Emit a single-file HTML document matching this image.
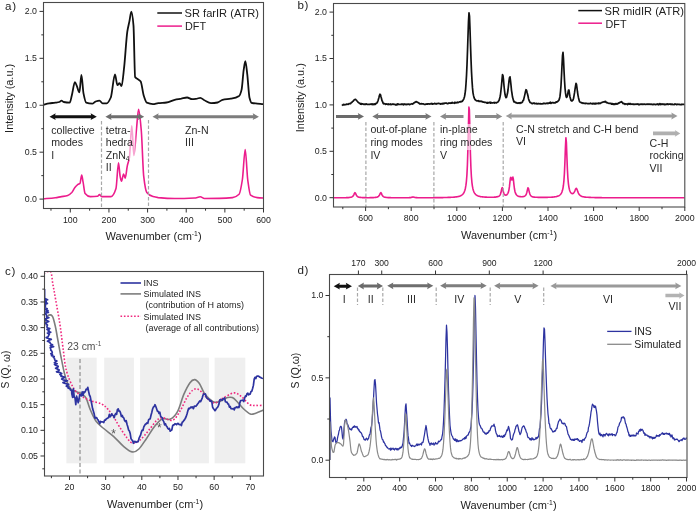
<!DOCTYPE html>
<html><head><meta charset="utf-8"><style>html,body{margin:0;padding:0;background:#fff;width:697px;height:511px;overflow:hidden}</style></head>
<body>
<svg width="697" height="511" viewBox="0 0 697 511" style="display:block;will-change:transform" font-family='"Liberation Sans", sans-serif'>
<rect width="697" height="511" fill="#fff"/>
<path d="M43.5,104.7 C45.4,104.2 47.3,103.6 49.2,103.3 C51.2,103.0 53.3,103.0 55.3,102.7 C56.7,102.5 58.0,102.4 59.4,102.0 C60.1,101.8 60.8,100.6 61.5,100.6 C62.2,100.6 62.9,101.8 63.6,102.0 C65.6,102.4 67.7,102.7 69.7,102.7 C70.4,102.7 71.1,98.2 71.8,95.5 C72.8,91.6 73.9,82.1 74.9,82.1 C75.6,82.1 76.2,84.7 76.9,86.2 C77.7,88.1 78.6,92.4 79.4,92.4 C80.1,92.4 80.7,74.9 81.4,74.9 C82.1,74.9 82.8,89.9 83.5,93.4 C84.4,97.9 85.3,102.4 86.2,102.7 C88.2,103.4 90.3,103.7 92.3,103.7 C93.3,103.7 94.4,102.0 95.4,101.6 C96.8,101.1 98.1,100.6 99.5,100.6 C100.5,100.6 101.6,103.3 102.6,103.3 C104.0,103.3 105.3,103.3 106.7,103.3 C108.1,103.3 109.4,100.6 110.8,97.5 C112.2,94.4 113.6,74.5 115.0,74.5 C115.8,74.5 116.6,85.2 117.4,85.2 C118.1,85.2 118.8,83.1 119.5,83.1 C120.2,83.1 120.8,86.2 121.5,86.2 C122.4,86.2 123.3,74.6 124.2,66.7 C125.2,57.6 126.3,38.6 127.3,31.7 C128.0,27.0 128.7,24.8 129.4,21.4 C130.1,18.1 130.7,11.6 131.4,11.6 C132.1,11.6 132.8,17.6 133.5,25.6 C134.0,31.7 134.6,76.1 135.1,77.0 C135.9,78.4 136.8,78.3 137.6,79.0 C138.6,79.8 139.7,80.1 140.7,81.5 C141.7,82.9 142.7,92.4 143.7,95.5 C144.7,98.7 145.8,102.2 146.8,102.7 C148.9,103.6 150.9,104.1 153.0,104.1 C154.7,104.1 156.5,103.3 158.2,103.1 C161.0,102.8 163.7,102.8 166.5,102.5 C169.2,102.2 172.0,100.4 174.7,99.8 C176.9,99.3 179.1,99.1 181.3,98.7 C183.2,98.3 185.2,97.5 187.1,97.5 C188.8,97.5 190.4,99.2 192.1,99.2 C193.7,99.2 195.4,98.9 197.0,98.7 C198.1,98.5 199.2,97.8 200.3,97.8 C201.7,97.8 203.0,99.6 204.4,100.3 C206.6,101.4 208.8,103.1 211.0,103.1 C213.2,103.1 215.4,102.9 217.6,102.5 C219.3,102.2 220.9,100.2 222.6,99.8 C225.3,99.2 228.1,99.2 230.8,98.7 C233.6,98.2 236.3,97.8 239.1,95.9 C239.9,95.3 240.8,93.0 241.6,89.6 C242.3,86.8 243.0,74.4 243.7,69.8 C244.3,66.1 244.8,61.2 245.4,61.2 C246.0,61.2 246.7,69.4 247.3,74.7 C248.0,80.9 248.8,94.9 249.5,97.8 C250.2,100.5 250.8,102.6 251.5,102.8 C253.4,103.4 255.3,103.4 257.2,103.6 C259.2,103.8 261.3,103.9 263.3,104.1" fill="none" stroke="#111" stroke-width="1.8" stroke-linejoin="round"/>
<path d="M43.5,198.7 C47.4,198.4 51.4,198.2 55.3,197.7 C57.4,197.5 59.4,196.9 61.5,196.6 C63.6,196.3 65.6,196.2 67.7,195.6 C69.1,195.2 70.4,193.9 71.8,192.5 C72.8,191.4 73.9,188.7 74.9,187.4 C75.9,186.1 77.0,185.0 78.0,184.3 C78.7,183.9 79.3,183.9 80.0,183.3 C80.6,182.8 81.1,175.0 81.7,175.0 C82.2,175.0 82.6,179.7 83.1,182.2 C83.8,185.8 84.4,192.7 85.1,193.5 C86.8,195.6 88.6,196.6 90.3,196.6 C92.7,196.6 95.1,196.5 97.5,196.2 C98.2,196.1 98.8,194.6 99.5,194.6 C100.2,194.6 100.9,196.6 101.6,196.6 C104.7,196.6 107.7,196.6 110.8,196.6 C112.5,196.6 114.3,193.6 116.0,188.4 C116.8,185.9 117.7,162.7 118.5,162.7 C119.0,162.7 119.6,173.4 120.1,176.1 C120.6,178.4 121.0,181.2 121.5,181.2 C122.2,181.2 122.9,174.0 123.6,174.0 C124.1,174.0 124.7,178.1 125.2,178.1 C125.9,178.1 126.6,169.1 127.3,165.8 C128.0,162.5 128.7,161.8 129.4,157.6 C130.2,152.8 131.0,125.7 131.8,125.7 C132.5,125.7 133.2,155.5 133.9,155.5 C134.8,155.5 135.6,137.2 136.5,128.8 C137.2,122.0 137.9,109.3 138.6,109.3 C139.5,109.3 140.4,120.6 141.3,130.8 C142.1,139.8 142.9,169.3 143.7,176.1 C144.7,184.8 145.8,191.2 146.8,192.5 C148.9,195.2 150.9,196.0 153.0,196.6 C154.7,197.1 156.5,197.4 158.2,197.6 C163.7,198.1 169.2,198.5 174.7,198.5 C181.3,198.5 187.9,198.3 194.5,198.0 C196.4,197.9 198.4,196.8 200.3,196.8 C201.7,196.8 203.0,198.5 204.4,198.5 C213.8,198.5 223.1,198.3 232.5,197.6 C234.7,197.4 236.9,196.5 239.1,194.3 C240.2,193.2 241.3,186.5 242.4,179.5 C243.3,173.5 244.3,149.5 245.2,149.5 C246.0,149.5 246.9,173.2 247.7,179.5 C248.7,186.8 249.6,194.5 250.6,195.2 C252.8,196.9 255.0,197.4 257.2,197.6 C259.2,197.8 261.3,197.9 263.3,198.0" fill="none" stroke="#ec1c8c" stroke-width="1.6" stroke-linejoin="round"/>
<rect x="105" y="122" width="30.5" height="38" fill="#fff" fill-opacity="0.6"/>
<line x1="101.5" y1="121" x2="101.5" y2="207" stroke="#a8a8a8" stroke-width="1.2" stroke-dasharray="3.5,2"/>
<line x1="148.5" y1="120" x2="148.5" y2="207" stroke="#a8a8a8" stroke-width="1.2" stroke-dasharray="3.5,2"/>
<path d="M49.50,116.70 L55.70,113.30 L55.10,115.20 L91.20,115.20 L90.60,113.30 L96.80,116.70 L90.60,120.10 L91.20,118.20 L55.10,118.20 L55.70,120.10 Z" fill="#111"/>
<path d="M105.40,116.70 L111.60,113.30 L111.00,115.20 L138.60,115.20 L138.00,113.30 L144.20,116.70 L138.00,120.10 L138.60,118.20 L111.00,118.20 L111.60,120.10 Z" fill="#6e6e6e"/>
<path d="M152.50,116.70 L158.70,113.30 L158.10,115.20 L253.30,115.20 L252.70,113.30 L258.90,116.70 L252.70,120.10 L253.30,118.20 L158.10,118.20 L158.70,120.10 Z" fill="#7d7d7d"/>
<text x="51.2" y="133.5" font-size="10.6" fill="#2a2a2a" text-anchor="start" >collective</text>
<text x="51.2" y="146.0" font-size="10.6" fill="#2a2a2a" text-anchor="start" >modes</text>
<text x="51.2" y="158.5" font-size="10.6" fill="#2a2a2a" text-anchor="start" >I</text>
<text x="105.8" y="133.5" font-size="10.6" fill="#2a2a2a" text-anchor="start" >tetra-</text>
<text x="105.8" y="146.1" font-size="10.6" fill="#2a2a2a" text-anchor="start" >hedra</text>
<text x="105.8" y="158.7" font-size="10.6" fill="#2a2a2a" text-anchor="start" >ZnN<tspan font-size="6.5" dy="2.5">4</tspan></text>
<text x="105.8" y="171.3" font-size="10.6" fill="#2a2a2a" text-anchor="start" >II</text>
<text x="185" y="133.6" font-size="10.6" fill="#2a2a2a" text-anchor="start" >Zn-N</text>
<text x="185" y="145.9" font-size="10.6" fill="#2a2a2a" text-anchor="start" >III</text>
<rect x="43.5" y="2.5" width="220.0" height="206.0" fill="none" stroke="#4a4a4a" stroke-width="1.1"/>
<line x1="39.5" y1="199.1" x2="43.5" y2="199.1" stroke="#333" stroke-width="1"/>
<line x1="39.5" y1="152.175" x2="43.5" y2="152.175" stroke="#333" stroke-width="1"/>
<line x1="39.5" y1="105.25" x2="43.5" y2="105.25" stroke="#333" stroke-width="1"/>
<line x1="39.5" y1="58.32500000000002" x2="43.5" y2="58.32500000000002" stroke="#333" stroke-width="1"/>
<line x1="39.5" y1="11.400000000000006" x2="43.5" y2="11.400000000000006" stroke="#333" stroke-width="1"/>
<line x1="41.3" y1="175.6375" x2="43.5" y2="175.6375" stroke="#333" stroke-width="1"/>
<line x1="41.3" y1="128.7125" x2="43.5" y2="128.7125" stroke="#333" stroke-width="1"/>
<line x1="41.3" y1="81.7875" x2="43.5" y2="81.7875" stroke="#333" stroke-width="1"/>
<line x1="41.3" y1="34.86250000000001" x2="43.5" y2="34.86250000000001" stroke="#333" stroke-width="1"/>
<line x1="70.3" y1="208.5" x2="70.3" y2="212.5" stroke="#333" stroke-width="1"/>
<line x1="108.94" y1="208.5" x2="108.94" y2="212.5" stroke="#333" stroke-width="1"/>
<line x1="147.57999999999998" y1="208.5" x2="147.57999999999998" y2="212.5" stroke="#333" stroke-width="1"/>
<line x1="186.22" y1="208.5" x2="186.22" y2="212.5" stroke="#333" stroke-width="1"/>
<line x1="224.86" y1="208.5" x2="224.86" y2="212.5" stroke="#333" stroke-width="1"/>
<line x1="263.5" y1="208.5" x2="263.5" y2="212.5" stroke="#333" stroke-width="1"/>
<line x1="50.98" y1="208.5" x2="50.98" y2="210.7" stroke="#333" stroke-width="1"/>
<line x1="89.62" y1="208.5" x2="89.62" y2="210.7" stroke="#333" stroke-width="1"/>
<line x1="128.26" y1="208.5" x2="128.26" y2="210.7" stroke="#333" stroke-width="1"/>
<line x1="166.9" y1="208.5" x2="166.9" y2="210.7" stroke="#333" stroke-width="1"/>
<line x1="205.54000000000002" y1="208.5" x2="205.54000000000002" y2="210.7" stroke="#333" stroke-width="1"/>
<line x1="244.18" y1="208.5" x2="244.18" y2="210.7" stroke="#333" stroke-width="1"/>
<text x="37" y="202.0" font-size="8.8" fill="#222" text-anchor="end" >0.0</text>
<text x="37" y="155.07500000000002" font-size="8.8" fill="#222" text-anchor="end" >0.5</text>
<text x="37" y="108.15" font-size="8.8" fill="#222" text-anchor="end" >1.0</text>
<text x="37" y="61.225000000000016" font-size="8.8" fill="#222" text-anchor="end" >1.5</text>
<text x="37" y="14.300000000000006" font-size="8.8" fill="#222" text-anchor="end" >2.0</text>
<text x="70.3" y="222.5" font-size="8.8" fill="#222" text-anchor="middle" >100</text>
<text x="108.94" y="222.5" font-size="8.8" fill="#222" text-anchor="middle" >200</text>
<text x="147.57999999999998" y="222.5" font-size="8.8" fill="#222" text-anchor="middle" >300</text>
<text x="186.22" y="222.5" font-size="8.8" fill="#222" text-anchor="middle" >400</text>
<text x="224.86" y="222.5" font-size="8.8" fill="#222" text-anchor="middle" >500</text>
<text x="263.5" y="222.5" font-size="8.8" fill="#222" text-anchor="middle" >600</text>
<text x="153.5" y="239.5" font-size="11" fill="#222" text-anchor="middle" >Wavenumber (cm<tspan font-size="6.8" dy="-4">-1</tspan><tspan dy="4">)</tspan></text>
<text transform="translate(13.4,98.4) rotate(-90)" font-size="10.9" fill="#222" text-anchor="middle">Intensity (a.u.)</text>
<text x="5.0" y="10.3" font-size="11.6" fill="#222" text-anchor="start" letter-spacing="0.7">a)</text>
<line x1="157.3" y1="13" x2="182" y2="13" stroke="#111" stroke-width="1.5"/>
<text x="184.6" y="17.3" font-size="11.1" fill="#222" text-anchor="start" >SR farIR (ATR)</text>
<line x1="157.3" y1="26.1" x2="182" y2="26.1" stroke="#ec1c8c" stroke-width="1.5"/>
<text x="185" y="30.3" font-size="10.8" fill="#222" text-anchor="start" >DFT</text>
<path d="M342.0,105.6 L342.5,105.0 L343.0,104.9 L343.5,104.3 L344.0,104.9 L344.5,104.7 L345.0,104.6 L345.5,104.7 L346.0,104.7 L346.5,104.2 L347.0,104.2 L347.5,104.2 L348.0,104.4 L348.5,104.2 L349.0,103.6 L349.5,103.5 L350.0,103.7 L350.5,103.7 L351.0,103.0 L351.5,102.4 L352.0,102.4 L352.5,101.6 L353.0,101.3 L353.5,100.9 L354.0,100.1 L354.5,99.5 L355.0,99.5 L355.5,99.3 L356.0,99.9 L356.5,100.3 L357.0,101.0 L357.5,101.5 L358.0,102.1 L358.5,102.5 L359.0,103.0 L359.5,103.3 L360.0,103.6 L360.5,104.1 L361.0,103.5 L361.5,104.3 L362.0,104.0 L362.5,103.8 L363.0,104.1 L363.5,104.2 L364.0,104.5 L364.5,104.0 L365.0,104.3 L365.5,104.3 L366.0,103.8 L366.5,104.0 L367.0,104.4 L367.5,104.4 L368.0,104.5 L368.5,104.4 L369.0,104.4 L369.5,104.3 L370.0,104.5 L370.5,104.0 L371.0,104.2 L371.5,104.3 L372.0,103.8 L372.5,104.5 L373.0,104.0 L373.5,104.1 L374.0,104.7 L374.5,103.9 L375.0,103.9 L375.5,104.3 L376.0,103.4 L376.5,103.2 L377.0,102.9 L377.5,102.0 L378.0,100.7 L378.5,99.0 L379.0,97.3 L379.5,95.3 L380.0,94.2 L380.5,94.8 L381.0,96.8 L381.5,98.5 L382.0,100.8 L382.5,101.4 L383.0,103.0 L383.5,103.8 L384.0,103.4 L384.5,103.7 L385.0,103.9 L385.5,104.3 L386.0,103.9 L386.5,104.1 L387.0,104.1 L387.5,104.2 L388.0,104.6 L388.5,104.0 L389.0,104.3 L389.5,104.3 L390.0,104.5 L390.5,104.0 L391.0,104.6 L391.5,104.4 L392.0,104.5 L392.5,104.3 L393.0,103.9 L393.5,104.2 L394.0,104.5 L394.5,104.3 L395.0,104.3 L395.5,104.8 L396.0,104.9 L396.5,104.3 L397.0,104.8 L397.5,103.8 L398.0,103.8 L398.5,104.5 L399.0,104.3 L399.5,104.5 L400.0,104.5 L400.5,104.3 L401.0,104.5 L401.5,104.4 L402.0,103.9 L402.5,104.4 L403.0,104.4 L403.5,104.8 L404.0,104.0 L404.5,104.3 L405.0,104.2 L405.5,104.3 L406.0,104.7 L406.5,104.4 L407.0,104.2 L407.5,104.3 L408.0,104.5 L408.5,104.0 L409.0,104.2 L409.5,104.6 L410.0,104.4 L410.5,104.2 L411.0,104.0 L411.5,104.0 L412.0,103.6 L412.5,104.1 L413.0,103.8 L413.5,103.5 L414.0,102.8 L414.5,102.6 L415.0,102.4 L415.5,102.0 L416.0,101.5 L416.5,101.8 L417.0,102.2 L417.5,102.2 L418.0,102.6 L418.5,102.9 L419.0,103.1 L419.5,103.8 L420.0,103.9 L420.5,104.0 L421.0,103.6 L421.5,103.7 L422.0,104.0 L422.5,103.9 L423.0,104.0 L423.5,103.8 L424.0,104.2 L424.5,104.5 L425.0,104.4 L425.5,104.4 L426.0,104.0 L426.5,104.2 L427.0,103.9 L427.5,104.2 L428.0,103.9 L428.5,103.8 L429.0,103.8 L429.5,104.1 L430.0,104.0 L430.5,103.9 L431.0,103.6 L431.5,103.9 L432.0,103.5 L432.5,104.2 L433.0,103.8 L433.5,103.9 L434.0,103.8 L434.5,103.4 L435.0,103.4 L435.5,103.8 L436.0,104.1 L436.5,103.5 L437.0,103.6 L437.5,103.7 L438.0,103.3 L438.5,103.3 L439.0,103.6 L439.5,103.7 L440.0,103.6 L440.5,104.0 L441.0,103.6 L441.5,103.7 L442.0,104.0 L442.5,104.0 L443.0,103.2 L443.5,103.4 L444.0,103.8 L444.5,103.2 L445.0,103.2 L445.5,103.1 L446.0,103.1 L446.5,103.1 L447.0,103.4 L447.5,103.7 L448.0,103.7 L448.5,103.3 L449.0,102.8 L449.5,103.2 L450.0,103.1 L450.5,103.3 L451.0,103.1 L451.5,102.7 L452.0,103.2 L452.5,102.5 L453.0,102.8 L453.5,103.0 L454.0,103.0 L454.5,103.3 L455.0,102.2 L455.5,102.9 L456.0,102.9 L456.5,102.6 L457.0,102.7 L457.5,102.2 L458.0,102.6 L458.5,102.5 L459.0,102.0 L459.5,101.9 L460.0,101.9 L460.5,101.6 L461.0,101.9 L461.5,101.4 L462.0,101.5 L462.5,101.1 L463.0,100.3 L463.5,99.6 L464.0,98.3 L464.5,96.7 L465.0,94.0 L465.5,90.2 L466.0,83.8 L466.5,75.6 L467.0,64.7 L467.5,51.0 L468.0,35.7 L468.5,21.3 L469.0,12.9 L469.5,16.1 L470.0,29.4 L470.5,44.9 L471.0,59.2 L471.5,71.6 L472.0,80.8 L472.5,87.9 L473.0,92.8 L473.5,95.4 L474.0,97.4 L474.5,98.7 L475.0,99.7 L475.5,99.9 L476.0,100.4 L476.5,100.8 L477.0,101.0 L477.5,100.9 L478.0,100.8 L478.5,100.7 L479.0,101.5 L479.5,101.4 L480.0,101.1 L480.5,101.3 L481.0,101.4 L481.5,101.2 L482.0,101.8 L482.5,101.7 L483.0,101.9 L483.5,102.2 L484.0,102.1 L484.5,102.4 L485.0,102.4 L485.5,102.4 L486.0,102.5 L486.5,103.0 L487.0,102.5 L487.5,103.1 L488.0,102.5 L488.5,102.9 L489.0,102.8 L489.5,102.6 L490.0,102.1 L490.5,103.2 L491.0,102.5 L491.5,102.6 L492.0,102.9 L492.5,102.8 L493.0,102.9 L493.5,102.7 L494.0,102.4 L494.5,103.0 L495.0,102.5 L495.5,102.7 L496.0,102.8 L496.5,102.8 L497.0,102.4 L497.5,102.2 L498.0,101.9 L498.5,101.1 L499.0,100.5 L499.5,99.1 L500.0,97.0 L500.5,94.3 L501.0,90.0 L501.5,85.3 L502.0,79.7 L502.5,74.7 L503.0,75.7 L503.5,79.9 L504.0,85.8 L504.5,90.5 L505.0,94.3 L505.5,96.5 L506.0,97.7 L506.5,97.3 L507.0,95.4 L507.5,93.3 L508.0,90.0 L508.5,85.7 L509.0,80.8 L509.5,77.7 L510.0,76.8 L510.5,80.7 L511.0,85.2 L511.5,90.3 L512.0,93.5 L512.5,97.0 L513.0,98.7 L513.5,100.6 L514.0,101.9 L514.5,101.6 L515.0,102.2 L515.5,102.7 L516.0,102.7 L516.5,102.5 L517.0,103.2 L517.5,103.0 L518.0,103.3 L518.5,103.1 L519.0,102.8 L519.5,102.9 L520.0,103.4 L520.5,102.6 L521.0,102.7 L521.5,102.8 L522.0,102.5 L522.5,101.9 L523.0,100.5 L523.5,100.2 L524.0,98.1 L524.5,96.1 L525.0,93.9 L525.5,91.5 L526.0,89.7 L526.5,90.1 L527.0,92.3 L527.5,94.0 L528.0,96.0 L528.5,98.7 L529.0,100.2 L529.5,101.4 L530.0,102.5 L530.5,102.4 L531.0,102.9 L531.5,103.2 L532.0,103.6 L532.5,103.6 L533.0,103.2 L533.5,103.1 L534.0,103.4 L534.5,103.1 L535.0,103.8 L535.5,103.5 L536.0,103.5 L536.5,103.4 L537.0,104.0 L537.5,103.7 L538.0,103.5 L538.5,103.8 L539.0,103.6 L539.5,103.8 L540.0,104.0 L540.5,103.6 L541.0,103.8 L541.5,103.8 L542.0,103.9 L542.5,103.8 L543.0,103.6 L543.5,103.4 L544.0,103.6 L544.5,103.3 L545.0,103.7 L545.5,103.5 L546.0,103.6 L546.5,103.3 L547.0,103.2 L547.5,103.1 L548.0,103.6 L548.5,103.2 L549.0,103.1 L549.5,102.7 L550.0,103.1 L550.5,102.2 L551.0,103.4 L551.5,102.9 L552.0,102.9 L552.5,102.5 L553.0,102.6 L553.5,102.9 L554.0,102.7 L554.5,102.8 L555.0,102.9 L555.5,102.7 L556.0,101.9 L556.5,102.1 L557.0,101.9 L557.5,101.7 L558.0,101.1 L558.5,100.6 L559.0,100.1 L559.5,98.6 L560.0,96.2 L560.5,91.6 L561.0,85.5 L561.5,76.0 L562.0,65.5 L562.5,55.7 L563.0,52.3 L563.5,59.0 L564.0,70.3 L564.5,80.2 L565.0,88.0 L565.5,92.9 L566.0,96.1 L566.5,97.4 L567.0,96.9 L567.5,95.4 L568.0,92.4 L568.5,90.1 L569.0,90.0 L569.5,93.8 L570.0,97.0 L570.5,98.8 L571.0,100.5 L571.5,100.6 L572.0,101.0 L572.5,100.4 L573.0,100.0 L573.5,98.5 L574.0,95.8 L574.5,92.9 L575.0,89.3 L575.5,86.2 L576.0,83.3 L576.5,84.4 L577.0,88.1 L577.5,92.0 L578.0,95.3 L578.5,97.7 L579.0,99.7 L579.5,101.6 L580.0,102.0 L580.5,102.3 L581.0,102.4 L581.5,102.9 L582.0,103.0 L582.5,102.9 L583.0,103.4 L583.5,103.0 L584.0,103.2 L584.5,103.5 L585.0,103.4 L585.5,103.6 L586.0,103.3 L586.5,103.3 L587.0,103.5 L587.5,103.5 L588.0,103.8 L588.5,103.6 L589.0,103.5 L589.5,103.6 L590.0,103.7 L590.5,103.2 L591.0,103.5 L591.5,103.5 L592.0,103.9 L592.5,103.4 L593.0,103.8 L593.5,103.3 L594.0,103.6 L594.5,103.9 L595.0,103.5 L595.5,103.9 L596.0,103.1 L596.5,103.6 L597.0,103.6 L597.5,103.5 L598.0,103.2 L598.5,103.7 L599.0,102.9 L599.5,103.6 L600.0,103.3 L600.5,103.4 L601.0,102.9 L601.5,102.5 L602.0,102.5 L602.5,102.2 L603.0,102.2 L603.5,101.8 L604.0,101.8 L604.5,101.7 L605.0,102.0 L605.5,101.4 L606.0,102.0 L606.5,102.6 L607.0,102.8 L607.5,102.7 L608.0,103.0 L608.5,103.2 L609.0,103.4 L609.5,103.4 L610.0,103.4 L610.5,103.4 L611.0,103.6 L611.5,104.1 L612.0,103.5 L612.5,104.0 L613.0,104.3 L613.5,103.9 L614.0,104.4 L614.5,103.8 L615.0,104.3 L615.5,103.8 L616.0,103.5 L616.5,103.9 L617.0,104.2 L617.5,103.5 L618.0,103.7 L618.5,103.1 L619.0,102.9 L619.5,102.9 L620.0,102.3 L620.5,102.1 L621.0,102.1 L621.5,101.7 L622.0,102.2 L622.5,102.8 L623.0,103.7 L623.5,103.3 L624.0,103.5 L624.5,103.9 L625.0,104.4 L625.5,103.8 L626.0,103.9 L626.5,104.0 L627.0,104.2 L627.5,104.6 L628.0,103.7 L628.5,103.6 L629.0,104.1 L629.5,104.2 L630.0,103.5 L630.5,103.9 L631.0,104.3 L631.5,104.0 L632.0,104.2 L632.5,104.2 L633.0,104.3 L633.5,104.2 L634.0,104.2 L634.5,104.5 L635.0,104.0 L635.5,104.2 L636.0,104.4 L636.5,104.0 L637.0,104.1 L637.5,104.0 L638.0,103.9 L638.5,104.7 L639.0,104.3 L639.5,104.7 L640.0,104.4 L640.5,104.2 L641.0,104.1 L641.5,104.3 L642.0,104.2 L642.5,104.4 L643.0,104.0 L643.5,104.3 L644.0,104.3 L644.5,104.2 L645.0,104.2 L645.5,104.4 L646.0,104.4 L646.5,104.2 L647.0,104.2 L647.5,104.1 L648.0,104.4 L648.5,104.2 L649.0,103.9 L649.5,104.2 L650.0,104.4 L650.5,104.3 L651.0,104.0 L651.5,104.4 L652.0,104.4 L652.5,104.4 L653.0,104.7 L653.5,104.2 L654.0,104.4 L654.5,104.2 L655.0,104.5 L655.5,104.6 L656.0,104.4 L656.5,104.5 L657.0,104.1 L657.5,104.4 L658.0,104.0 L658.5,104.8 L659.0,104.6 L659.5,103.9 L660.0,103.6 L660.5,104.6 L661.0,104.1 L661.5,104.4 L662.0,104.0 L662.5,104.3 L663.0,104.1 L663.5,104.5 L664.0,104.2 L664.5,104.7 L665.0,104.1 L665.5,104.6 L666.0,104.3 L666.5,104.4 L667.0,103.9 L667.5,103.9 L668.0,104.6 L668.5,104.0 L669.0,104.2 L669.5,104.2 L670.0,104.1 L670.5,104.4 L671.0,104.0 L671.5,104.0 L672.0,104.6 L672.5,104.1 L673.0,104.5 L673.5,104.5 L674.0,104.7 L674.5,104.5 L675.0,103.9 L675.5,104.2 L676.0,104.3 L676.5,104.7 L677.0,104.4 L677.5,104.2 L678.0,104.5 L678.5,104.3 L679.0,104.5 L679.5,104.4 L680.0,104.6 L680.5,104.5 L681.0,104.6 L681.5,104.4 L682.0,104.6 L682.5,104.3 L683.0,104.5 L683.5,104.4 L684.0,104.4 L684.5,104.3" fill="none" stroke="#111" stroke-width="1.7" stroke-linejoin="round"/>
<path d="M333.4,197.8 L333.9,197.8 L334.4,197.8 L334.9,197.8 L335.4,197.8 L335.9,197.8 L336.4,197.8 L336.9,197.8 L337.4,197.7 L337.9,197.7 L338.4,197.7 L338.9,197.7 L339.4,197.7 L339.9,197.7 L340.4,197.7 L340.9,197.7 L341.4,197.7 L341.9,197.7 L342.4,197.7 L342.9,197.7 L343.4,197.7 L343.9,197.7 L344.4,197.7 L344.9,197.7 L345.4,197.7 L345.9,197.7 L346.4,197.6 L346.9,197.6 L347.4,197.6 L347.9,197.6 L348.4,197.6 L348.9,197.5 L349.4,197.5 L349.9,197.4 L350.4,197.3 L350.9,197.2 L351.4,197.1 L351.9,196.9 L352.4,196.6 L352.9,196.2 L353.4,195.5 L353.9,194.6 L354.4,193.4 L354.9,192.6 L355.4,193.0 L355.9,194.1 L356.4,195.2 L356.9,195.9 L357.4,196.5 L357.9,196.8 L358.4,197.0 L358.9,197.2 L359.4,197.3 L359.9,197.4 L360.4,197.4 L360.9,197.5 L361.4,197.5 L361.9,197.5 L362.4,197.6 L362.9,197.6 L363.4,197.6 L363.9,197.6 L364.4,197.6 L364.9,197.6 L365.4,197.6 L365.9,197.6 L366.4,197.7 L366.9,197.7 L367.4,197.7 L367.9,197.7 L368.4,197.7 L368.9,197.7 L369.4,197.7 L369.9,197.6 L370.4,197.6 L370.9,197.6 L371.4,197.6 L371.9,197.6 L372.4,197.6 L372.9,197.6 L373.4,197.6 L373.9,197.5 L374.4,197.5 L374.9,197.5 L375.4,197.4 L375.9,197.4 L376.4,197.3 L376.9,197.2 L377.4,197.0 L377.9,196.8 L378.4,196.4 L378.9,195.9 L379.4,195.2 L379.9,194.1 L380.4,193.0 L380.9,192.6 L381.4,193.4 L381.9,194.6 L382.4,195.5 L382.9,196.2 L383.4,196.6 L383.9,196.9 L384.4,197.1 L384.9,197.2 L385.4,197.3 L385.9,197.4 L386.4,197.5 L386.9,197.5 L387.4,197.5 L387.9,197.6 L388.4,197.6 L388.9,197.6 L389.4,197.6 L389.9,197.6 L390.4,197.6 L390.9,197.7 L391.4,197.7 L391.9,197.7 L392.4,197.7 L392.9,197.7 L393.4,197.7 L393.9,197.7 L394.4,197.7 L394.9,197.7 L395.4,197.7 L395.9,197.7 L396.4,197.7 L396.9,197.7 L397.4,197.7 L397.9,197.7 L398.4,197.7 L398.9,197.7 L399.4,197.7 L399.9,197.7 L400.4,197.7 L400.9,197.7 L401.4,197.7 L401.9,197.7 L402.4,197.7 L402.9,197.7 L403.4,197.7 L403.9,197.7 L404.4,197.7 L404.9,197.7 L405.4,197.7 L405.9,197.7 L406.4,197.7 L406.9,197.7 L407.4,197.7 L407.9,197.7 L408.4,197.7 L408.9,197.7 L409.4,197.6 L409.9,197.6 L410.4,197.6 L410.9,197.5 L411.4,197.4 L411.9,197.3 L412.4,197.1 L412.9,197.0 L413.4,197.0 L413.9,197.2 L414.4,197.3 L414.9,197.5 L415.4,197.5 L415.9,197.6 L416.4,197.6 L416.9,197.6 L417.4,197.7 L417.9,197.7 L418.4,197.7 L418.9,197.7 L419.4,197.7 L419.9,197.7 L420.4,197.7 L420.9,197.7 L421.4,197.7 L421.9,197.7 L422.4,197.7 L422.9,197.7 L423.4,197.7 L423.9,197.7 L424.4,197.7 L424.9,197.7 L425.4,197.7 L425.9,197.7 L426.4,197.7 L426.9,197.7 L427.4,197.7 L427.9,197.7 L428.4,197.7 L428.9,197.7 L429.4,197.7 L429.9,197.7 L430.4,197.7 L430.9,197.7 L431.4,197.7 L431.9,197.7 L432.4,197.7 L432.9,197.7 L433.4,197.7 L433.9,197.7 L434.4,197.7 L434.9,197.6 L435.4,197.6 L435.9,197.6 L436.4,197.6 L436.9,197.6 L437.4,197.6 L437.9,197.6 L438.4,197.6 L438.9,197.6 L439.4,197.6 L439.9,197.6 L440.4,197.6 L440.9,197.6 L441.4,197.6 L441.9,197.6 L442.4,197.6 L442.9,197.6 L443.4,197.5 L443.9,197.5 L444.4,197.5 L444.9,197.5 L445.4,197.5 L445.9,197.5 L446.4,197.5 L446.9,197.5 L447.4,197.5 L447.9,197.4 L448.4,197.4 L448.9,197.4 L449.4,197.4 L449.9,197.4 L450.4,197.4 L450.9,197.3 L451.4,197.3 L451.9,197.3 L452.4,197.2 L452.9,197.2 L453.4,197.2 L453.9,197.1 L454.4,197.1 L454.9,197.0 L455.4,197.0 L455.9,196.9 L456.4,196.9 L456.9,196.8 L457.4,196.7 L457.9,196.6 L458.4,196.5 L458.9,196.4 L459.4,196.2 L459.9,196.1 L460.4,195.9 L460.9,195.6 L461.4,195.4 L461.9,195.0 L462.4,194.6 L462.9,194.1 L463.4,193.5 L463.9,192.7 L464.4,191.6 L464.9,190.2 L465.4,188.2 L465.9,185.4 L466.4,181.3 L466.9,175.1 L467.4,165.1 L467.9,149.4 L468.4,127.0 L468.9,107.1 L469.4,109.9 L469.9,131.8 L470.4,153.1 L470.9,167.5 L471.4,176.5 L471.9,182.3 L472.4,186.1 L472.9,188.7 L473.4,190.5 L473.9,191.8 L474.4,192.8 L474.9,193.6 L475.4,194.2 L475.9,194.7 L476.4,195.1 L476.9,195.4 L477.4,195.6 L477.9,195.9 L478.4,196.1 L478.9,196.2 L479.4,196.3 L479.9,196.5 L480.4,196.6 L480.9,196.7 L481.4,196.7 L481.9,196.8 L482.4,196.9 L482.9,196.9 L483.4,197.0 L483.9,197.0 L484.4,197.0 L484.9,197.1 L485.4,197.1 L485.9,197.1 L486.4,197.1 L486.9,197.2 L487.4,197.2 L487.9,197.2 L488.4,197.2 L488.9,197.2 L489.4,197.2 L489.9,197.2 L490.4,197.2 L490.9,197.2 L491.4,197.2 L491.9,197.2 L492.4,197.2 L492.9,197.2 L493.4,197.2 L493.9,197.2 L494.4,197.1 L494.9,197.1 L495.4,197.1 L495.9,197.0 L496.4,196.9 L496.9,196.9 L497.4,196.8 L497.9,196.6 L498.4,196.4 L498.9,196.2 L499.4,195.8 L499.9,195.2 L500.4,194.3 L500.9,192.8 L501.4,190.5 L501.9,188.1 L502.4,187.7 L502.9,189.8 L503.4,192.1 L503.9,193.6 L504.4,194.4 L504.9,194.9 L505.4,195.1 L505.9,195.1 L506.4,195.0 L506.9,194.7 L507.4,194.1 L507.9,193.3 L508.4,192.1 L508.9,190.1 L509.4,186.9 L509.9,182.4 L510.4,178.0 L510.9,177.3 L511.4,179.3 L511.9,180.0 L512.4,178.5 L512.9,177.1 L513.4,179.5 L513.9,184.4 L514.4,188.5 L514.9,191.2 L515.4,192.9 L515.9,194.0 L516.4,194.8 L516.9,195.3 L517.4,195.7 L517.9,196.0 L518.4,196.2 L518.9,196.4 L519.4,196.5 L519.9,196.6 L520.4,196.6 L520.9,196.7 L521.4,196.7 L521.9,196.7 L522.4,196.7 L522.9,196.6 L523.4,196.6 L523.9,196.4 L524.4,196.2 L524.9,196.0 L525.4,195.5 L525.9,194.9 L526.4,193.8 L526.9,192.2 L527.4,189.9 L527.9,187.9 L528.4,188.2 L528.9,190.4 L529.4,192.6 L529.9,194.1 L530.4,195.1 L530.9,195.8 L531.4,196.2 L531.9,196.5 L532.4,196.7 L532.9,196.9 L533.4,197.0 L533.9,197.1 L534.4,197.1 L534.9,197.2 L535.4,197.2 L535.9,197.3 L536.4,197.3 L536.9,197.3 L537.4,197.3 L537.9,197.4 L538.4,197.4 L538.9,197.4 L539.4,197.4 L539.9,197.4 L540.4,197.4 L540.9,197.4 L541.4,197.4 L541.9,197.4 L542.4,197.4 L542.9,197.4 L543.4,197.4 L543.9,197.4 L544.4,197.4 L544.9,197.4 L545.4,197.4 L545.9,197.4 L546.4,197.4 L546.9,197.4 L547.4,197.4 L547.9,197.3 L548.4,197.3 L548.9,197.3 L549.4,197.3 L549.9,197.3 L550.4,197.2 L550.9,197.2 L551.4,197.2 L551.9,197.1 L552.4,197.1 L552.9,197.1 L553.4,197.0 L553.9,197.0 L554.4,196.9 L554.9,196.8 L555.4,196.8 L555.9,196.7 L556.4,196.6 L556.9,196.4 L557.4,196.3 L557.9,196.1 L558.4,195.9 L558.9,195.7 L559.4,195.4 L559.9,195.0 L560.4,194.5 L560.9,193.9 L561.4,193.1 L561.9,192.1 L562.4,190.6 L562.9,188.6 L563.4,185.5 L563.9,180.9 L564.4,173.6 L564.9,162.4 L565.4,147.9 L565.9,137.7 L566.4,142.5 L566.9,156.7 L567.4,169.5 L567.9,178.1 L568.4,183.6 L568.9,187.1 L569.4,189.4 L569.9,191.0 L570.4,192.1 L570.9,192.8 L571.4,193.2 L571.9,193.5 L572.4,193.6 L572.9,193.5 L573.4,193.2 L573.9,192.7 L574.4,191.9 L574.9,190.8 L575.4,189.5 L575.9,188.6 L576.4,188.3 L576.9,189.1 L577.4,190.5 L577.9,191.9 L578.4,193.1 L578.9,194.0 L579.4,194.7 L579.9,195.2 L580.4,195.6 L580.9,196.0 L581.4,196.2 L581.9,196.4 L582.4,196.6 L582.9,196.7 L583.4,196.8 L583.9,196.9 L584.4,197.0 L584.9,197.1 L585.4,197.1 L585.9,197.2 L586.4,197.2 L586.9,197.2 L587.4,197.3 L587.9,197.3 L588.4,197.3 L588.9,197.4 L589.4,197.4 L589.9,197.4 L590.4,197.4 L590.9,197.5 L591.4,197.5 L591.9,197.5 L592.4,197.5 L592.9,197.5 L593.4,197.5 L593.9,197.5 L594.4,197.5 L594.9,197.6 L595.4,197.6 L595.9,197.6 L596.4,197.6 L596.9,197.6 L597.4,197.6 L597.9,197.6 L598.4,197.6 L598.9,197.6 L599.4,197.6 L599.9,197.6 L600.4,197.6 L600.9,197.6 L601.4,197.6 L601.9,197.7 L602.4,197.7 L602.9,197.7 L603.4,197.7 L603.9,197.7 L604.4,197.7 L604.9,197.7 L605.4,197.7 L605.9,197.7 L606.4,197.7 L606.9,197.7 L607.4,197.7 L607.9,197.7 L608.4,197.7 L608.9,197.7 L609.4,197.7 L609.9,197.7 L610.4,197.7 L610.9,197.7 L611.4,197.7 L611.9,197.7 L612.4,197.7 L612.9,197.7 L613.4,197.7 L613.9,197.7 L614.4,197.7 L614.9,197.7 L615.4,197.7 L615.9,197.7 L616.4,197.7 L616.9,197.7 L617.4,197.7 L617.9,197.7 L618.4,197.7 L618.9,197.7 L619.4,197.7 L619.9,197.7 L620.4,197.7 L620.9,197.7 L621.4,197.7 L621.9,197.7 L622.4,197.7 L622.9,197.7 L623.4,197.7 L623.9,197.7 L624.4,197.7 L624.9,197.7 L625.4,197.7 L625.9,197.7 L626.4,197.7 L626.9,197.7 L627.4,197.7 L627.9,197.7 L628.4,197.7 L628.9,197.7 L629.4,197.8 L629.9,197.8 L630.4,197.8 L630.9,197.8 L631.4,197.8 L631.9,197.8 L632.4,197.8 L632.9,197.8 L633.4,197.8 L633.9,197.8 L634.4,197.8 L634.9,197.8 L635.4,197.8 L635.9,197.8 L636.4,197.8 L636.9,197.8 L637.4,197.8 L637.9,197.8 L638.4,197.8 L638.9,197.8 L639.4,197.8 L639.9,197.8 L640.4,197.8 L640.9,197.8 L641.4,197.8 L641.9,197.8 L642.4,197.8 L642.9,197.8 L643.4,197.8 L643.9,197.8 L644.4,197.8 L644.9,197.8 L645.4,197.8 L645.9,197.8 L646.4,197.8 L646.9,197.8 L647.4,197.8 L647.9,197.8 L648.4,197.8 L648.9,197.8 L649.4,197.8 L649.9,197.8 L650.4,197.8 L650.9,197.8 L651.4,197.8 L651.9,197.8 L652.4,197.8 L652.9,197.8 L653.4,197.8 L653.9,197.8 L654.4,197.8 L654.9,197.8 L655.4,197.8 L655.9,197.8 L656.4,197.8 L656.9,197.8 L657.4,197.8 L657.9,197.8 L658.4,197.8 L658.9,197.8 L659.4,197.8 L659.9,197.8 L660.4,197.8 L660.9,197.8 L661.4,197.8 L661.9,197.8 L662.4,197.8 L662.9,197.8 L663.4,197.8 L663.9,197.8 L664.4,197.8 L664.9,197.8 L665.4,197.8 L665.9,197.8 L666.4,197.8 L666.9,197.8 L667.4,197.8 L667.9,197.8 L668.4,197.8 L668.9,197.8 L669.4,197.8 L669.9,197.8 L670.4,197.8 L670.9,197.8 L671.4,197.8 L671.9,197.8 L672.4,197.8 L672.9,197.8 L673.4,197.8 L673.9,197.8 L674.4,197.8 L674.9,197.8 L675.4,197.8 L675.9,197.8 L676.4,197.8 L676.9,197.8 L677.4,197.8 L677.9,197.8 L678.4,197.8 L678.9,197.8 L679.4,197.8 L679.9,197.8 L680.4,197.8 L680.9,197.8 L681.4,197.8 L681.9,197.8 L682.4,197.8 L682.9,197.8 L683.4,197.8 L683.9,197.8 L684.4,197.8" fill="none" stroke="#ec1c8c" stroke-width="1.6" stroke-linejoin="round"/>
<rect x="439" y="124" width="55" height="26" fill="#fff" fill-opacity="0.6"/>
<line x1="365.9" y1="122" x2="365.9" y2="207" stroke="#a8a8a8" stroke-width="1.2" stroke-dasharray="3.5,2"/>
<line x1="433.9" y1="122" x2="433.9" y2="207" stroke="#a8a8a8" stroke-width="1.2" stroke-dasharray="3.5,2"/>
<line x1="503.2" y1="122" x2="503.2" y2="207" stroke="#a8a8a8" stroke-width="1.2" stroke-dasharray="3.5,2"/>
<path d="M336.00,117.90 L336.00,114.90 L358.40,114.90 L357.80,113.00 L364.00,116.40 L357.80,119.80 L358.40,117.90 L336.00,117.90 Z" fill="#6a6a6a"/>
<path d="M372.30,116.40 L378.50,113.00 L377.90,114.90 L425.90,114.90 L425.30,113.00 L431.50,116.40 L425.30,119.80 L425.90,117.90 L377.90,117.90 L378.50,119.80 Z" fill="#777"/>
<path d="M440.00,116.40 L446.20,113.00 L445.60,114.90 L463.50,114.90 L463.50,117.90 L445.60,117.90 L446.20,119.80 Z" fill="#8a8a8a"/>
<path d="M475.00,117.90 L475.00,114.90 L496.70,114.90 L496.10,113.00 L502.30,116.40 L496.10,119.80 L496.70,117.90 L475.00,117.90 Z" fill="#8a8a8a"/>
<path d="M505.70,116.00 L511.90,112.60 L511.30,114.40 L671.90,114.40 L671.30,112.60 L677.50,116.00 L671.30,119.40 L671.90,117.60 L511.30,117.60 L511.90,119.40 Z" fill="#9a9a9a"/>
<path d="M653.00,135.20 L653.00,131.60 L675.40,131.60 L674.80,130.10 L680.30,133.40 L674.80,136.70 L675.40,135.20 L653.00,135.20 Z" fill="#b0b0b0"/>
<text x="370.4" y="133.1" font-size="10.6" fill="#2a2a2a" text-anchor="start" >out-of-plane</text>
<text x="370.4" y="145.95" font-size="10.6" fill="#2a2a2a" text-anchor="start" >ring modes</text>
<text x="370.4" y="158.79999999999998" font-size="10.6" fill="#2a2a2a" text-anchor="start" >IV</text>
<text x="440" y="133.1" font-size="10.6" fill="#2a2a2a" text-anchor="start" >in-plane</text>
<text x="440" y="145.95" font-size="10.6" fill="#2a2a2a" text-anchor="start" >ring modes</text>
<text x="440" y="158.79999999999998" font-size="10.6" fill="#2a2a2a" text-anchor="start" >V</text>
<text x="516" y="133.0" font-size="10.6" fill="#2a2a2a" text-anchor="start" >C-N stretch and C-H bend</text>
<text x="516" y="145.4" font-size="10.6" fill="#2a2a2a" text-anchor="start" >VI</text>
<text x="649.5" y="146.8" font-size="10.6" fill="#2a2a2a" text-anchor="start" >C-H</text>
<text x="649.5" y="159.3" font-size="10.6" fill="#2a2a2a" text-anchor="start" >rocking</text>
<text x="649.5" y="171.8" font-size="10.6" fill="#2a2a2a" text-anchor="start" >VII</text>
<rect x="333.5" y="3.5" width="351.29999999999995" height="203.5" fill="none" stroke="#4a4a4a" stroke-width="1.1"/>
<line x1="329.5" y1="197.7" x2="333.5" y2="197.7" stroke="#333" stroke-width="1"/>
<line x1="329.5" y1="151.29999999999998" x2="333.5" y2="151.29999999999998" stroke="#333" stroke-width="1"/>
<line x1="329.5" y1="104.89999999999999" x2="333.5" y2="104.89999999999999" stroke="#333" stroke-width="1"/>
<line x1="329.5" y1="58.5" x2="333.5" y2="58.5" stroke="#333" stroke-width="1"/>
<line x1="329.5" y1="12.099999999999994" x2="333.5" y2="12.099999999999994" stroke="#333" stroke-width="1"/>
<line x1="331.3" y1="174.5" x2="333.5" y2="174.5" stroke="#333" stroke-width="1"/>
<line x1="331.3" y1="128.1" x2="333.5" y2="128.1" stroke="#333" stroke-width="1"/>
<line x1="331.3" y1="81.69999999999999" x2="333.5" y2="81.69999999999999" stroke="#333" stroke-width="1"/>
<line x1="331.3" y1="35.29999999999998" x2="333.5" y2="35.29999999999998" stroke="#333" stroke-width="1"/>
<line x1="365.6" y1="207" x2="365.6" y2="211" stroke="#333" stroke-width="1"/>
<line x1="411.20000000000005" y1="207" x2="411.20000000000005" y2="211" stroke="#333" stroke-width="1"/>
<line x1="456.8" y1="207" x2="456.8" y2="211" stroke="#333" stroke-width="1"/>
<line x1="502.40000000000003" y1="207" x2="502.40000000000003" y2="211" stroke="#333" stroke-width="1"/>
<line x1="548.0" y1="207" x2="548.0" y2="211" stroke="#333" stroke-width="1"/>
<line x1="593.6" y1="207" x2="593.6" y2="211" stroke="#333" stroke-width="1"/>
<line x1="639.2" y1="207" x2="639.2" y2="211" stroke="#333" stroke-width="1"/>
<line x1="684.8" y1="207" x2="684.8" y2="211" stroke="#333" stroke-width="1"/>
<line x1="342.8" y1="207" x2="342.8" y2="209.2" stroke="#333" stroke-width="1"/>
<line x1="388.40000000000003" y1="207" x2="388.40000000000003" y2="209.2" stroke="#333" stroke-width="1"/>
<line x1="434.0" y1="207" x2="434.0" y2="209.2" stroke="#333" stroke-width="1"/>
<line x1="479.6" y1="207" x2="479.6" y2="209.2" stroke="#333" stroke-width="1"/>
<line x1="525.2" y1="207" x2="525.2" y2="209.2" stroke="#333" stroke-width="1"/>
<line x1="570.8000000000001" y1="207" x2="570.8000000000001" y2="209.2" stroke="#333" stroke-width="1"/>
<line x1="616.4000000000001" y1="207" x2="616.4000000000001" y2="209.2" stroke="#333" stroke-width="1"/>
<line x1="662.0" y1="207" x2="662.0" y2="209.2" stroke="#333" stroke-width="1"/>
<text x="327" y="200.6" font-size="8.8" fill="#222" text-anchor="end" >0.0</text>
<text x="327" y="154.2" font-size="8.8" fill="#222" text-anchor="end" >0.5</text>
<text x="327" y="107.8" font-size="8.8" fill="#222" text-anchor="end" >1.0</text>
<text x="327" y="61.4" font-size="8.8" fill="#222" text-anchor="end" >1.5</text>
<text x="327" y="14.999999999999995" font-size="8.8" fill="#222" text-anchor="end" >2.0</text>
<text x="365.6" y="220.6" font-size="8.8" fill="#222" text-anchor="middle" >600</text>
<text x="411.20000000000005" y="220.6" font-size="8.8" fill="#222" text-anchor="middle" >800</text>
<text x="456.8" y="220.6" font-size="8.8" fill="#222" text-anchor="middle" >1000</text>
<text x="502.40000000000003" y="220.6" font-size="8.8" fill="#222" text-anchor="middle" >1200</text>
<text x="548.0" y="220.6" font-size="8.8" fill="#222" text-anchor="middle" >1400</text>
<text x="593.6" y="220.6" font-size="8.8" fill="#222" text-anchor="middle" >1600</text>
<text x="639.2" y="220.6" font-size="8.8" fill="#222" text-anchor="middle" >1800</text>
<text x="684.8" y="220.6" font-size="8.8" fill="#222" text-anchor="middle" >2000</text>
<text x="509" y="238.5" font-size="11" fill="#222" text-anchor="middle" >Wavenumber (cm<tspan font-size="6.8" dy="-4">-1</tspan><tspan dy="4">)</tspan></text>
<text transform="translate(303.8,97.7) rotate(-90)" font-size="10.9" fill="#222" text-anchor="middle">Intensity (a.u.)</text>
<text x="297.4" y="9.3" font-size="11.6" fill="#222" text-anchor="start" letter-spacing="0.7">b)</text>
<line x1="578.3" y1="10.6" x2="602" y2="10.6" stroke="#111" stroke-width="1.5"/>
<text x="604.6" y="14.8" font-size="11.1" fill="#222" text-anchor="start" >SR midIR (ATR)</text>
<line x1="578.3" y1="23.2" x2="602" y2="23.2" stroke="#ec1c8c" stroke-width="1.5"/>
<text x="605.5" y="27.7" font-size="10.8" fill="#222" text-anchor="start" >DFT</text>
<rect x="66.4" y="357.7" width="30.299999999999997" height="105.60000000000002" fill="#efefef"/>
<rect x="104.2" y="357.7" width="29.700000000000003" height="105.60000000000002" fill="#efefef"/>
<rect x="140.1" y="357.7" width="29.900000000000006" height="105.60000000000002" fill="#efefef"/>
<rect x="179.1" y="357.7" width="29.80000000000001" height="105.60000000000002" fill="#efefef"/>
<rect x="214.6" y="357.7" width="30.700000000000017" height="105.60000000000002" fill="#efefef"/>
<line x1="80" y1="359" x2="80" y2="476" stroke="#7a7a7a" stroke-width="1" stroke-dasharray="4,2.5"/>
<text x="67.2" y="350.2" font-size="10.4" fill="#505050" text-anchor="start" >23 cm<tspan font-size="6.5" dy="-4">-1</tspan></text>
<clipPath id="cc"><rect x="44.5" y="271.5" width="218.9" height="204.7"/></clipPath>
<g clip-path="url(#cc)">
<path d="M44.5,326.0 C45.0,324.4 46.2,318.1 47.5,316.4 C48.8,314.7 50.9,314.3 52.2,315.9 C53.5,317.5 54.3,322.2 55.2,325.8 C56.1,329.4 56.7,333.6 57.4,337.5 C58.1,341.4 58.8,345.3 59.5,349.2 C60.2,353.1 61.0,357.0 61.8,360.9 C62.6,364.8 63.4,369.2 64.3,372.7 C65.2,376.2 65.9,379.3 67.0,382.0 C68.1,384.7 69.4,387.4 70.8,389.0 C72.2,390.6 73.8,390.6 75.6,391.4 C77.4,392.2 79.7,392.5 81.5,393.7 C83.3,394.9 84.8,395.8 86.2,398.4 C87.6,400.9 88.4,405.2 90.0,409.0 C91.6,412.8 93.6,417.8 95.9,421.0 C98.2,424.2 100.8,425.9 103.7,428.5 C106.6,431.1 110.2,433.4 113.5,436.3 C116.8,439.2 120.2,443.5 123.3,446.1 C126.4,448.7 129.5,451.4 132.1,451.9 C134.7,452.4 136.5,451.3 138.9,449.0 C141.3,446.7 144.1,441.9 146.7,438.2 C149.3,434.4 151.9,429.8 154.5,426.5 C157.1,423.2 159.8,419.9 162.4,418.7 C165.0,417.5 167.5,420.5 170.0,419.3 C172.5,418.1 175.2,415.8 177.5,411.6 C179.8,407.5 181.7,399.2 183.8,394.4 C185.9,389.6 188.2,385.2 190.0,382.7 C191.8,380.2 193.1,379.5 194.7,379.6 C196.3,379.7 197.8,381.3 199.4,383.5 C201.0,385.7 202.5,390.4 204.1,392.9 C205.7,395.4 207.0,396.7 208.8,398.3 C210.6,399.9 213.0,401.9 215.1,402.3 C217.2,402.7 219.2,401.5 221.3,400.7 C223.4,399.9 225.8,398.1 227.6,397.6 C229.4,397.1 230.7,397.0 232.3,397.6 C233.9,398.2 235.2,399.7 237.0,401.5 C238.8,403.3 241.0,406.4 243.2,408.5 C245.4,410.6 248.2,413.2 250.3,414.0 C252.4,414.8 253.6,413.8 255.8,413.2 C258.0,412.6 262.3,410.6 263.6,410.1" fill="none" stroke="#7d7d7d" stroke-width="1.6"/>
<path d="M44.0,273.5 C45.1,273.2 49.0,269.7 50.5,271.6 C52.0,273.5 52.1,280.3 53.0,285.0 C53.9,289.7 54.6,293.6 55.7,300.0 C56.8,306.4 58.6,315.6 59.8,323.4 C61.0,331.2 61.8,339.2 62.9,347.0 C64.0,354.8 64.5,363.5 66.3,370.3 C68.1,377.1 71.0,383.7 73.5,388.0 C76.0,392.3 78.6,393.9 81.5,396.0 C84.4,398.1 87.5,399.5 90.9,400.8 C94.3,402.1 98.9,402.6 101.7,404.0 C104.5,405.4 105.6,406.8 107.6,408.9 C109.6,411.0 111.5,413.8 113.5,416.7 C115.5,419.6 117.0,422.9 119.3,426.5 C121.6,430.1 124.9,435.4 127.2,438.2 C129.5,441.0 130.7,442.9 133.0,443.1 C135.3,443.3 138.3,441.3 140.9,439.2 C143.5,437.1 146.1,433.5 148.7,430.4 C151.3,427.3 154.2,422.7 156.5,420.6 C158.8,418.5 159.7,417.8 162.4,417.7 C165.1,417.6 169.8,421.5 172.8,420.2 C175.8,418.9 178.2,413.9 180.6,410.1 C182.9,406.3 184.9,400.9 186.9,397.6 C188.9,394.3 190.7,391.9 192.4,390.5 C194.1,389.1 195.4,388.6 197.1,389.0 C198.8,389.4 200.6,391.1 202.6,392.9 C204.6,394.7 206.7,398.2 208.8,399.9 C210.9,401.6 212.8,403.3 215.1,403.0 C217.4,402.7 219.8,400.0 222.9,398.3 C226.0,396.6 230.8,393.1 233.9,392.9 C237.0,392.6 239.1,394.9 241.7,396.8 C244.3,398.8 247.2,403.2 249.5,404.6 C251.8,406.0 253.5,405.3 255.8,405.4 C258.2,405.5 262.3,405.4 263.6,405.4" fill="none" stroke="#f0287e" stroke-width="1.6" stroke-dasharray="1.6,1.8"/>
<path d="M44.6,289.0 L44.6,289.9 L44.6,290.8 L44.6,291.7 L44.6,292.6 L44.6,293.5 L44.6,294.4 L44.6,295.3 L44.6,296.2 L44.6,297.1 L44.6,298.0 L45.5,298.9 L47.6,299.8 L44.6,300.7 L46.2,301.6 L45.1,302.5 L47.4,303.4 L45.4,304.3 L45.4,305.2 L45.5,306.1 L44.6,307.0 L45.5,307.9 L47.2,308.8 L45.2,309.7 L48.0,310.6 L46.0,311.5 L48.4,312.4 L45.0,313.3 L45.8,314.2 L46.5,315.1 L46.7,316.0 L46.6,316.9 L48.9,317.8 L45.5,318.7 L44.6,319.6 L46.9,320.5 L48.8,321.4 L46.9,322.3 L45.5,323.2 L46.6,324.1 L47.5,325.0 L47.0,325.9 L47.0,326.8 L47.2,327.7 L49.8,328.6 L47.0,329.5 L49.0,330.4 L48.3,331.3 L50.8,332.2 L47.4,333.1 L49.4,334.0 L48.9,334.9 L48.5,335.8 L48.1,336.7 L46.2,337.6 L48.6,338.5 L51.3,339.4 L49.0,340.3 L47.5,341.2 L49.7,342.1 L50.1,343.0 L50.7,343.9 L52.5,344.8 L50.3,345.7 L53.6,346.6 L50.2,347.5 L50.5,348.4 L50.9,349.3 L50.7,350.2 L51.8,351.1 L52.1,352.0 L52.3,352.9 L50.8,353.8 L52.5,354.7 L51.5,355.6 L54.2,356.5 L53.4,357.4 L54.5,358.3 L54.6,359.2 L54.8,360.1 L56.9,361.0 L55.6,361.9 L54.4,362.8 L57.2,363.7 L54.5,364.6 L56.1,365.5 L58.2,366.4 L57.7,367.3 L55.6,368.2 L57.6,369.1 L59.2,370.0 L58.8,370.9 L56.5,371.8 L60.2,372.7 L61.7,373.6 L59.9,374.5 L61.6,375.4 L61.0,376.3 L64.8,377.2 L63.5,378.1 L61.7,379.0 L63.1,379.9 L67.5,380.8 L65.0,381.7 L63.0,382.6 L65.2,383.5 L68.7,384.4 L67.2,385.3 L66.3,386.2 L68.6,387.1 L68.0,388.0 L70.2,388.9 L70.3,389.8 L71.7,390.7 L71.8,393.8 L72.6,397.4 L73.4,388.8 L74.2,397.2 L75.0,398.0 L75.8,404.7 L76.6,396.2 L77.4,399.0 L78.2,402.7 L79.0,399.4 L79.8,394.5 L80.6,395.0 L81.4,395.8 L82.2,391.8 L83.0,395.7 L83.8,391.8 L84.6,392.5 L85.4,391.1 L86.2,389.2 L87.0,389.5 L87.8,387.4 L88.6,391.4 L89.4,395.0 L90.2,396.5 L91.0,400.6 L91.8,404.3 L92.6,408.6 L93.4,411.3 L94.2,414.1 L95.0,418.2 L95.8,417.7 L96.6,417.6 L97.4,419.2 L98.2,420.1 L99.0,421.8 L99.8,423.7 L100.6,421.4 L101.4,421.9 L102.2,421.8 L103.0,422.0 L103.8,422.5 L104.6,420.1 L105.4,420.2 L106.2,419.0 L107.0,418.5 L107.8,418.1 L108.6,417.5 L109.4,414.3 L110.2,416.8 L111.0,415.8 L111.8,413.8 L112.6,415.5 L113.4,415.5 L114.2,417.7 L115.0,414.8 L115.8,413.5 L116.6,414.3 L117.4,409.6 L118.2,408.9 L119.0,411.2 L119.8,411.1 L120.6,413.1 L121.4,416.5 L122.2,415.4 L123.0,417.4 L123.8,417.9 L124.6,420.4 L125.4,421.5 L126.2,420.6 L127.0,424.2 L127.8,426.8 L128.6,430.0 L129.4,431.0 L130.2,433.6 L131.0,438.6 L131.8,439.9 L132.6,440.6 L133.4,443.3 L134.2,441.5 L135.0,441.4 L135.8,442.3 L136.6,442.2 L137.4,441.5 L138.2,441.6 L139.0,438.4 L139.8,436.6 L140.6,435.0 L141.4,432.1 L142.2,430.1 L143.0,430.3 L143.8,426.9 L144.6,425.5 L145.4,424.1 L146.2,423.9 L147.0,422.9 L147.8,423.3 L148.6,419.9 L149.4,419.0 L150.2,418.9 L151.0,415.3 L151.8,412.4 L152.6,409.0 L153.4,407.0 L154.2,406.6 L155.0,404.7 L155.8,406.5 L156.6,408.8 L157.4,411.2 L158.2,411.4 L159.0,413.3 L159.8,412.1 L160.6,416.2 L161.4,417.1 L162.2,417.6 L163.0,420.4 L163.8,421.6 L164.6,424.9 L165.4,423.6 L166.2,425.7 L167.0,426.7 L167.8,428.3 L168.6,429.0 L169.4,428.4 L170.2,431.2 L171.0,430.4 L171.8,430.0 L172.6,425.9 L173.4,424.9 L174.2,424.8 L175.0,423.7 L175.8,424.1 L176.6,424.7 L177.4,423.6 L178.2,423.4 L179.0,424.5 L179.8,424.6 L180.6,424.4 L181.4,425.6 L182.2,422.2 L183.0,421.7 L183.8,420.6 L184.6,419.6 L185.4,418.3 L186.2,416.4 L187.0,413.9 L187.8,411.1 L188.6,408.4 L189.4,408.8 L190.2,407.9 L191.0,407.0 L191.8,407.6 L192.6,407.0 L193.4,408.7 L194.2,406.4 L195.0,406.1 L195.8,406.3 L196.6,405.5 L197.4,404.2 L198.2,403.2 L199.0,402.0 L199.8,400.9 L200.6,401.6 L201.4,399.8 L202.2,398.1 L203.0,395.2 L203.8,393.9 L204.6,394.4 L205.4,393.9 L206.2,397.0 L207.0,398.2 L207.8,398.5 L208.6,399.4 L209.4,400.0 L210.2,401.3 L211.0,400.7 L211.8,401.6 L212.6,407.2 L213.4,408.7 L214.2,409.5 L215.0,410.7 L215.8,409.7 L216.6,408.1 L217.4,407.6 L218.2,406.1 L219.0,403.9 L219.8,400.0 L220.6,399.4 L221.4,399.9 L222.2,400.4 L223.0,398.8 L223.8,398.7 L224.6,397.9 L225.4,401.7 L226.2,402.1 L227.0,402.0 L227.8,403.9 L228.6,404.1 L229.4,407.1 L230.2,406.5 L231.0,408.6 L231.8,408.8 L232.6,408.8 L233.4,408.4 L234.2,409.9 L235.0,407.6 L235.8,407.6 L236.6,406.8 L237.4,407.7 L238.2,406.8 L239.0,407.5 L239.8,402.9 L240.6,400.6 L241.4,400.5 L242.2,400.2 L243.0,400.3 L243.8,401.5 L244.6,398.1 L245.4,396.0 L246.2,396.3 L247.0,393.7 L247.8,393.1 L248.6,394.8 L249.4,394.2 L250.2,394.1 L251.0,391.6 L251.8,391.2 L252.6,388.5 L253.4,385.4 L254.2,379.2 L255.0,377.4 L255.8,378.6 L256.6,376.3 L257.4,376.2 L258.2,376.1 L259.0,376.5 L259.8,377.2 L260.6,377.3 L261.4,378.0 L262.2,378.3 L263.0,378.5" fill="none" stroke="#2d33a0" stroke-width="1.7" stroke-linejoin="round"/>
</g>
<text x="113.5" y="437.5" font-size="12" fill="#555" text-anchor="middle" >*</text>
<text x="159.4" y="431.5" font-size="12" fill="#555" text-anchor="middle" >*</text>
<rect x="44.5" y="271.5" width="219.0" height="204.5" fill="none" stroke="#4a4a4a" stroke-width="1.1"/>
<line x1="40.5" y1="455.99" x2="44.5" y2="455.99" stroke="#333" stroke-width="1"/>
<line x1="40.5" y1="430.32000000000005" x2="44.5" y2="430.32000000000005" stroke="#333" stroke-width="1"/>
<line x1="40.5" y1="404.65" x2="44.5" y2="404.65" stroke="#333" stroke-width="1"/>
<line x1="40.5" y1="378.98" x2="44.5" y2="378.98" stroke="#333" stroke-width="1"/>
<line x1="40.5" y1="353.31" x2="44.5" y2="353.31" stroke="#333" stroke-width="1"/>
<line x1="40.5" y1="327.64000000000004" x2="44.5" y2="327.64000000000004" stroke="#333" stroke-width="1"/>
<line x1="40.5" y1="301.97" x2="44.5" y2="301.97" stroke="#333" stroke-width="1"/>
<line x1="40.5" y1="276.3" x2="44.5" y2="276.3" stroke="#333" stroke-width="1"/>
<line x1="42.3" y1="468.825" x2="44.5" y2="468.825" stroke="#333" stroke-width="1"/>
<line x1="42.3" y1="443.155" x2="44.5" y2="443.155" stroke="#333" stroke-width="1"/>
<line x1="42.3" y1="417.485" x2="44.5" y2="417.485" stroke="#333" stroke-width="1"/>
<line x1="42.3" y1="391.81500000000005" x2="44.5" y2="391.81500000000005" stroke="#333" stroke-width="1"/>
<line x1="42.3" y1="366.145" x2="44.5" y2="366.145" stroke="#333" stroke-width="1"/>
<line x1="42.3" y1="340.475" x2="44.5" y2="340.475" stroke="#333" stroke-width="1"/>
<line x1="42.3" y1="314.805" x2="44.5" y2="314.805" stroke="#333" stroke-width="1"/>
<line x1="42.3" y1="289.13500000000005" x2="44.5" y2="289.13500000000005" stroke="#333" stroke-width="1"/>
<line x1="69.5" y1="476" x2="69.5" y2="480" stroke="#333" stroke-width="1"/>
<line x1="105.66" y1="476" x2="105.66" y2="480" stroke="#333" stroke-width="1"/>
<line x1="141.82" y1="476" x2="141.82" y2="480" stroke="#333" stroke-width="1"/>
<line x1="177.98000000000002" y1="476" x2="177.98000000000002" y2="480" stroke="#333" stroke-width="1"/>
<line x1="214.14000000000001" y1="476" x2="214.14000000000001" y2="480" stroke="#333" stroke-width="1"/>
<line x1="250.3" y1="476" x2="250.3" y2="480" stroke="#333" stroke-width="1"/>
<line x1="51.42" y1="476" x2="51.42" y2="478.2" stroke="#333" stroke-width="1"/>
<line x1="87.58" y1="476" x2="87.58" y2="478.2" stroke="#333" stroke-width="1"/>
<line x1="123.74000000000001" y1="476" x2="123.74000000000001" y2="478.2" stroke="#333" stroke-width="1"/>
<line x1="159.9" y1="476" x2="159.9" y2="478.2" stroke="#333" stroke-width="1"/>
<line x1="196.06" y1="476" x2="196.06" y2="478.2" stroke="#333" stroke-width="1"/>
<line x1="232.22" y1="476" x2="232.22" y2="478.2" stroke="#333" stroke-width="1"/>
<text x="38" y="458.89" font-size="8.8" fill="#222" text-anchor="end" >0.05</text>
<text x="38" y="433.22" font-size="8.8" fill="#222" text-anchor="end" >0.10</text>
<text x="38" y="407.54999999999995" font-size="8.8" fill="#222" text-anchor="end" >0.15</text>
<text x="38" y="381.88" font-size="8.8" fill="#222" text-anchor="end" >0.20</text>
<text x="38" y="356.21" font-size="8.8" fill="#222" text-anchor="end" >0.25</text>
<text x="38" y="330.54" font-size="8.8" fill="#222" text-anchor="end" >0.30</text>
<text x="38" y="304.87" font-size="8.8" fill="#222" text-anchor="end" >0.35</text>
<text x="38" y="279.2" font-size="8.8" fill="#222" text-anchor="end" >0.40</text>
<text x="69.5" y="490" font-size="8.8" fill="#222" text-anchor="middle" >20</text>
<text x="105.66" y="490" font-size="8.8" fill="#222" text-anchor="middle" >30</text>
<text x="141.82" y="490" font-size="8.8" fill="#222" text-anchor="middle" >40</text>
<text x="177.98000000000002" y="490" font-size="8.8" fill="#222" text-anchor="middle" >50</text>
<text x="214.14000000000001" y="490" font-size="8.8" fill="#222" text-anchor="middle" >60</text>
<text x="250.3" y="490" font-size="8.8" fill="#222" text-anchor="middle" >70</text>
<text x="155" y="508" font-size="11" fill="#222" text-anchor="middle" >Wavenumber (cm<tspan font-size="6.8" dy="-4">-1</tspan><tspan dy="4">)</tspan></text>
<text transform="translate(9,369.5) rotate(-90)" font-size="10.2" fill="#222" text-anchor="middle">S (Q, <tspan dy="1">ω</tspan><tspan dy="-1">)</tspan></text>
<text x="4.9" y="274.8" font-size="11.6" fill="#222" text-anchor="start" letter-spacing="0.7">c)</text>
<line x1="120.5" y1="283" x2="141" y2="283" stroke="#2d33a0" stroke-width="1.6"/>
<line x1="120.5" y1="293.9" x2="141" y2="293.9" stroke="#7d7d7d" stroke-width="1.6"/>
<line x1="120.5" y1="316.3" x2="141" y2="316.3" stroke="#f0287e" stroke-width="1.6" stroke-dasharray="1.6,1.8"/>
<text x="143.5" y="286" font-size="9.0" fill="#222" text-anchor="start" >INS</text>
<text x="143.5" y="297" font-size="9.0" fill="#222" text-anchor="start" >Simulated INS</text>
<text x="145.5" y="308" font-size="9.0" fill="#222" text-anchor="start" >(contribution of H atoms)</text>
<text x="143.5" y="319.6" font-size="9.0" fill="#222" text-anchor="start" >Simulated INS</text>
<text x="145.5" y="330.6" font-size="9.0" fill="#222" text-anchor="start" >(average of all contributions)</text>
<path d="M330.0,460.0 L330.0,397.9 L330.5,419.0 L331.0,431.1 L331.5,435.5 L332.0,441.1 L332.5,441.2 L333.0,441.7 L333.5,439.7 L334.0,438.6 L334.5,436.8 L335.0,437.4 L335.5,440.8 L336.0,442.9 L336.5,441.9 L337.0,441.4 L337.5,438.1 L338.0,435.9 L338.5,434.0 L339.0,431.0 L339.5,430.0 L340.0,427.5 L340.5,426.4 L341.0,426.3 L341.5,427.3 L342.0,432.1 L342.5,437.5 L343.0,439.0 L343.5,435.7 L344.0,428.6 L344.5,423.2 L345.0,420.3 L345.5,420.2 L346.0,419.2 L346.5,420.1 L347.0,422.9 L347.5,424.7 L348.0,424.9 L348.5,426.9 L349.0,427.7 L349.5,428.7 L350.0,429.5 L350.5,429.5 L351.0,428.8 L351.5,430.0 L352.0,428.9 L352.5,427.4 L353.0,427.3 L353.5,426.5 L354.0,427.4 L354.5,425.8 L355.0,426.4 L355.5,427.1 L356.0,426.9 L356.5,427.2 L357.0,426.5 L357.5,428.6 L358.0,428.5 L358.5,430.1 L359.0,429.6 L359.5,431.7 L360.0,431.5 L360.5,432.5 L361.0,432.6 L361.5,433.5 L362.0,434.6 L362.5,436.6 L363.0,436.5 L363.5,437.6 L364.0,439.4 L364.5,439.8 L365.0,439.7 L365.5,440.1 L366.0,438.6 L366.5,438.1 L367.0,439.0 L367.5,440.0 L368.0,438.9 L368.5,438.6 L369.0,436.4 L369.5,434.6 L370.0,434.4 L370.5,431.0 L371.0,427.4 L371.5,426.1 L372.0,421.7 L372.5,415.2 L373.0,408.1 L373.5,398.5 L374.0,388.7 L374.5,380.3 L375.0,379.6 L375.5,384.1 L376.0,392.8 L376.5,402.5 L377.0,408.3 L377.5,414.0 L378.0,417.6 L378.5,423.0 L379.0,422.4 L379.5,425.8 L380.0,429.7 L380.5,431.2 L381.0,433.6 L381.5,436.6 L382.0,438.4 L382.5,439.7 L383.0,439.9 L383.5,442.2 L384.0,441.9 L384.5,443.1 L385.0,443.9 L385.5,445.7 L386.0,445.9 L386.5,446.2 L387.0,447.6 L387.5,447.5 L388.0,448.4 L388.5,448.9 L389.0,449.0 L389.5,448.7 L390.0,448.6 L390.5,450.2 L391.0,448.0 L391.5,449.6 L392.0,448.9 L392.5,448.9 L393.0,448.1 L393.5,449.3 L394.0,448.9 L394.5,450.0 L395.0,448.8 L395.5,448.4 L396.0,448.3 L396.5,449.7 L397.0,449.4 L397.5,448.7 L398.0,450.0 L398.5,448.9 L399.0,448.4 L399.5,448.8 L400.0,447.5 L400.5,448.1 L401.0,446.9 L401.5,447.6 L402.0,446.8 L402.5,444.8 L403.0,443.1 L403.5,437.9 L404.0,432.9 L404.5,424.5 L405.0,414.2 L405.5,406.2 L406.0,403.9 L406.5,411.0 L407.0,418.5 L407.5,427.6 L408.0,435.4 L408.5,438.3 L409.0,443.3 L409.5,442.9 L410.0,444.2 L410.5,445.3 L411.0,445.5 L411.5,446.5 L412.0,445.2 L412.5,445.9 L413.0,445.7 L413.5,446.0 L414.0,446.3 L414.5,446.5 L415.0,445.9 L415.5,445.9 L416.0,445.6 L416.5,444.3 L417.0,444.0 L417.5,445.5 L418.0,444.1 L418.5,444.4 L419.0,445.0 L419.5,444.5 L420.0,444.1 L420.5,443.8 L421.0,444.3 L421.5,445.0 L422.0,442.4 L422.5,442.7 L423.0,442.4 L423.5,440.2 L424.0,437.2 L424.5,434.5 L425.0,431.2 L425.5,428.3 L426.0,425.5 L426.5,428.2 L427.0,432.5 L427.5,436.1 L428.0,438.7 L428.5,441.0 L429.0,442.8 L429.5,443.4 L430.0,445.4 L430.5,443.4 L431.0,443.7 L431.5,443.0 L432.0,444.5 L432.5,444.2 L433.0,443.8 L433.5,443.1 L434.0,445.2 L434.5,444.0 L435.0,444.1 L435.5,442.5 L436.0,443.5 L436.5,443.5 L437.0,444.1 L437.5,443.1 L438.0,443.2 L438.5,441.1 L439.0,441.7 L439.5,441.6 L440.0,441.0 L440.5,440.3 L441.0,439.5 L441.5,439.6 L442.0,436.6 L442.5,434.5 L443.0,429.9 L443.5,422.1 L444.0,412.1 L444.5,396.4 L445.0,380.0 L445.5,360.5 L446.0,338.5 L446.5,325.2 L447.0,332.6 L447.5,349.3 L448.0,372.0 L448.5,389.7 L449.0,403.8 L449.5,415.6 L450.0,425.2 L450.5,429.4 L451.0,432.6 L451.5,434.8 L452.0,435.8 L452.5,436.4 L453.0,438.0 L453.5,439.2 L454.0,438.8 L454.5,440.3 L455.0,440.4 L455.5,438.9 L456.0,440.8 L456.5,441.6 L457.0,439.5 L457.5,440.7 L458.0,441.6 L458.5,440.7 L459.0,441.3 L459.5,441.0 L460.0,440.5 L460.5,440.9 L461.0,440.5 L461.5,440.5 L462.0,440.2 L462.5,439.4 L463.0,439.0 L463.5,438.7 L464.0,439.1 L464.5,437.7 L465.0,438.9 L465.5,436.9 L466.0,438.4 L466.5,436.4 L467.0,435.7 L467.5,435.1 L468.0,435.1 L468.5,434.1 L469.0,432.4 L469.5,432.1 L470.0,430.9 L470.5,428.7 L471.0,426.3 L471.5,418.6 L472.0,412.1 L472.5,399.7 L473.0,383.3 L473.5,362.1 L474.0,333.3 L474.5,307.6 L475.0,295.5 L475.5,308.3 L476.0,334.0 L476.5,358.8 L477.0,381.7 L477.5,397.7 L478.0,410.2 L478.5,417.2 L479.0,422.1 L479.5,424.5 L480.0,425.4 L480.5,426.4 L481.0,428.2 L481.5,428.2 L482.0,428.8 L482.5,430.1 L483.0,431.3 L483.5,432.1 L484.0,431.8 L484.5,432.7 L485.0,433.7 L485.5,433.1 L486.0,434.4 L486.5,433.8 L487.0,432.7 L487.5,433.4 L488.0,432.1 L488.5,432.7 L489.0,430.6 L489.5,431.0 L490.0,430.6 L490.5,428.5 L491.0,427.6 L491.5,426.2 L492.0,425.9 L492.5,425.8 L493.0,426.2 L493.5,425.5 L494.0,424.1 L494.5,426.5 L495.0,426.8 L495.5,430.6 L496.0,432.5 L496.5,434.1 L497.0,434.5 L497.5,436.7 L498.0,435.9 L498.5,435.9 L499.0,436.3 L499.5,435.3 L500.0,436.5 L500.5,436.7 L501.0,437.0 L501.5,436.0 L502.0,436.1 L502.5,437.4 L503.0,437.3 L503.5,435.3 L504.0,436.7 L504.5,436.5 L505.0,434.5 L505.5,434.7 L506.0,432.7 L506.5,431.5 L507.0,429.8 L507.5,430.7 L508.0,428.4 L508.5,426.4 L509.0,428.0 L509.5,430.6 L510.0,433.2 L510.5,438.4 L511.0,439.0 L511.5,440.0 L512.0,439.9 L512.5,439.4 L513.0,436.5 L513.5,434.5 L514.0,433.2 L514.5,432.3 L515.0,429.7 L515.5,428.6 L516.0,426.1 L516.5,426.1 L517.0,425.0 L517.5,424.8 L518.0,426.6 L518.5,429.0 L519.0,431.6 L519.5,432.5 L520.0,434.7 L520.5,433.8 L521.0,432.7 L521.5,430.5 L522.0,428.0 L522.5,426.9 L523.0,426.6 L523.5,425.9 L524.0,426.1 L524.5,427.0 L525.0,428.9 L525.5,429.1 L526.0,431.1 L526.5,432.5 L527.0,433.2 L527.5,436.2 L528.0,437.5 L528.5,437.4 L529.0,438.0 L529.5,438.7 L530.0,439.7 L530.5,438.6 L531.0,440.1 L531.5,439.9 L532.0,437.7 L532.5,439.0 L533.0,439.5 L533.5,439.0 L534.0,439.9 L534.5,439.4 L535.0,439.4 L535.5,438.8 L536.0,437.5 L536.5,438.8 L537.0,437.5 L537.5,438.1 L538.0,436.6 L538.5,436.9 L539.0,433.0 L539.5,428.5 L540.0,427.4 L540.5,420.6 L541.0,413.4 L541.5,403.4 L542.0,389.0 L542.5,373.7 L543.0,357.9 L543.5,339.7 L544.0,327.9 L544.5,329.3 L545.0,341.1 L545.5,357.5 L546.0,372.2 L546.5,385.7 L547.0,397.8 L547.5,406.6 L548.0,414.0 L548.5,417.8 L549.0,423.7 L549.5,423.9 L550.0,427.2 L550.5,428.5 L551.0,428.3 L551.5,429.7 L552.0,430.1 L552.5,431.4 L553.0,432.0 L553.5,431.5 L554.0,431.6 L554.5,430.7 L555.0,431.3 L555.5,430.7 L556.0,429.4 L556.5,428.2 L557.0,428.4 L557.5,425.3 L558.0,423.6 L558.5,421.6 L559.0,420.9 L559.5,420.0 L560.0,419.2 L560.5,420.0 L561.0,420.3 L561.5,421.8 L562.0,423.3 L562.5,423.2 L563.0,423.7 L563.5,424.0 L564.0,423.0 L564.5,423.6 L565.0,423.6 L565.5,425.8 L566.0,426.1 L566.5,426.7 L567.0,429.6 L567.5,431.3 L568.0,434.0 L568.5,434.9 L569.0,435.8 L569.5,437.2 L570.0,438.0 L570.5,439.5 L571.0,439.4 L571.5,439.7 L572.0,440.3 L572.5,439.3 L573.0,439.7 L573.5,440.4 L574.0,439.1 L574.5,440.3 L575.0,439.0 L575.5,439.1 L576.0,439.5 L576.5,439.3 L577.0,438.5 L577.5,438.5 L578.0,440.2 L578.5,439.7 L579.0,440.5 L579.5,441.4 L580.0,441.1 L580.5,440.9 L581.0,440.4 L581.5,441.2 L582.0,442.5 L582.5,440.0 L583.0,439.3 L583.5,439.7 L584.0,440.5 L584.5,439.0 L585.0,438.5 L585.5,437.7 L586.0,436.7 L586.5,434.6 L587.0,432.8 L587.5,432.0 L588.0,431.6 L588.5,427.3 L589.0,426.2 L589.5,423.4 L590.0,419.8 L590.5,416.4 L591.0,412.2 L591.5,409.9 L592.0,406.2 L592.5,404.2 L593.0,404.8 L593.5,405.5 L594.0,407.4 L594.5,405.8 L595.0,407.7 L595.5,406.1 L596.0,408.7 L596.5,411.4 L597.0,415.1 L597.5,421.6 L598.0,426.6 L598.5,431.1 L599.0,433.8 L599.5,434.7 L600.0,433.2 L600.5,435.6 L601.0,434.6 L601.5,434.5 L602.0,435.8 L602.5,435.2 L603.0,436.9 L603.5,434.3 L604.0,434.9 L604.5,434.7 L605.0,436.0 L605.5,434.5 L606.0,434.1 L606.5,433.3 L607.0,434.0 L607.5,435.1 L608.0,434.5 L608.5,435.9 L609.0,433.9 L609.5,434.9 L610.0,434.0 L610.5,434.9 L611.0,434.5 L611.5,434.6 L612.0,433.6 L612.5,435.6 L613.0,434.5 L613.5,434.6 L614.0,434.6 L614.5,434.6 L615.0,435.8 L615.5,435.7 L616.0,434.9 L616.5,433.1 L617.0,432.5 L617.5,430.2 L618.0,427.0 L618.5,426.3 L619.0,425.5 L619.5,423.5 L620.0,422.4 L620.5,421.9 L621.0,420.6 L621.5,417.3 L622.0,418.0 L622.5,417.2 L623.0,417.1 L623.5,416.8 L624.0,418.3 L624.5,418.0 L625.0,420.9 L625.5,423.5 L626.0,423.9 L626.5,426.3 L627.0,427.7 L627.5,429.7 L628.0,431.9 L628.5,432.3 L629.0,435.5 L629.5,434.8 L630.0,436.5 L630.5,436.4 L631.0,435.2 L631.5,435.4 L632.0,436.1 L632.5,435.3 L633.0,435.0 L633.5,435.9 L634.0,435.0 L634.5,435.9 L635.0,435.6 L635.5,435.9 L636.0,435.7 L636.5,433.0 L637.0,433.3 L637.5,433.5 L638.0,434.2 L638.5,431.7 L639.0,431.0 L639.5,429.8 L640.0,431.4 L640.5,429.1 L641.0,429.8 L641.5,430.3 L642.0,429.2 L642.5,429.8 L643.0,430.5 L643.5,432.2 L644.0,433.4 L644.5,433.0 L645.0,435.3 L645.5,434.0 L646.0,435.1 L646.5,435.2 L647.0,435.0 L647.5,435.9 L648.0,436.4 L648.5,435.8 L649.0,436.9 L649.5,436.5 L650.0,438.0 L650.5,436.7 L651.0,436.8 L651.5,437.1 L652.0,438.1 L652.5,438.9 L653.0,437.1 L653.5,438.4 L654.0,438.4 L654.5,437.4 L655.0,438.0 L655.5,437.6 L656.0,436.5 L656.5,435.1 L657.0,436.3 L657.5,435.6 L658.0,435.6 L658.5,435.6 L659.0,436.5 L659.5,434.7 L660.0,435.5 L660.5,434.8 L661.0,434.2 L661.5,433.8 L662.0,433.3 L662.5,432.8 L663.0,434.4 L663.5,434.4 L664.0,433.4 L664.5,434.4 L665.0,433.8 L665.5,433.7 L666.0,433.1 L666.5,433.1 L667.0,434.1 L667.5,433.9 L668.0,433.5 L668.5,434.4 L669.0,434.3 L669.5,433.4 L670.0,435.7 L670.5,435.0 L671.0,437.0 L671.5,435.5 L672.0,435.0 L672.5,437.4 L673.0,438.7 L673.5,437.7 L674.0,438.3 L674.5,440.0 L675.0,439.5 L675.5,439.7 L676.0,439.2 L676.5,439.3 L677.0,439.1 L677.5,439.5 L678.0,440.2 L678.5,440.6 L679.0,441.6 L679.5,441.3 L680.0,440.3 L680.5,440.1 L681.0,440.2 L681.5,439.7 L682.0,440.7 L682.5,439.0 L683.0,439.1 L683.5,438.1 L684.0,438.0 L684.5,439.1 L685.0,439.3 L685.5,439.1 L686.0,439.0 L686.5,437.5" fill="none" stroke="#2d33a0" stroke-width="1.25" stroke-linejoin="round"/>
<path d="M330.0,460.0 L330.0,421.9 L330.5,430.5 L331.0,440.1 L331.5,446.6 L332.0,449.1 L332.5,450.7 L333.0,452.2 L333.5,452.5 L334.0,451.8 L334.5,448.6 L335.0,445.6 L335.5,444.1 L336.0,443.7 L336.5,443.2 L337.0,442.6 L337.5,442.7 L338.0,442.5 L338.5,442.6 L339.0,442.9 L339.5,442.8 L340.0,443.7 L340.5,443.6 L341.0,444.1 L341.5,444.7 L342.0,445.4 L342.5,445.9 L343.0,446.1 L343.5,444.4 L344.0,436.0 L344.5,426.2 L345.0,420.7 L345.5,419.9 L346.0,421.1 L346.5,422.4 L347.0,423.9 L347.5,425.7 L348.0,427.8 L348.5,430.6 L349.0,433.9 L349.5,437.4 L350.0,441.3 L350.5,446.2 L351.0,450.6 L351.5,452.7 L352.0,453.3 L352.5,454.2 L353.0,454.5 L353.5,455.3 L354.0,455.2 L354.5,455.1 L355.0,455.1 L355.5,454.8 L356.0,454.1 L356.5,453.8 L357.0,453.0 L357.5,451.0 L358.0,448.2 L358.5,445.8 L359.0,443.9 L359.5,444.3 L360.0,445.6 L360.5,447.4 L361.0,449.6 L361.5,451.7 L362.0,452.4 L362.5,454.0 L363.0,455.2 L363.5,456.2 L364.0,456.7 L364.5,456.7 L365.0,456.6 L365.5,456.3 L366.0,455.9 L366.5,455.8 L367.0,455.5 L367.5,455.1 L368.0,454.7 L368.5,453.5 L369.0,451.7 L369.5,449.5 L370.0,446.4 L370.5,442.5 L371.0,437.2 L371.5,430.2 L372.0,421.2 L372.5,411.3 L373.0,402.1 L373.5,397.9 L374.0,402.7 L374.5,412.3 L375.0,423.0 L375.5,431.7 L376.0,439.4 L376.5,445.1 L377.0,449.1 L377.5,452.3 L378.0,454.4 L378.5,456.1 L379.0,457.5 L379.5,458.2 L380.0,459.0 L380.5,458.8 L381.0,459.1 L381.5,459.2 L382.0,459.2 L382.5,459.3 L383.0,459.4 L383.5,459.4 L384.0,459.8 L384.5,459.4 L385.0,459.6 L385.5,459.8 L386.0,459.7 L386.5,459.8 L387.0,459.4 L387.5,459.6 L388.0,459.7 L388.5,459.9 L389.0,459.6 L389.5,459.7 L390.0,460.0 L390.5,459.8 L391.0,459.8 L391.5,459.7 L392.0,459.9 L392.5,459.4 L393.0,459.6 L393.5,459.6 L394.0,459.7 L394.5,459.6 L395.0,459.3 L395.5,459.6 L396.0,459.4 L396.5,460.0 L397.0,459.4 L397.5,459.6 L398.0,459.3 L398.5,459.3 L399.0,459.1 L399.5,459.2 L400.0,459.1 L400.5,458.5 L401.0,458.5 L401.5,457.9 L402.0,457.0 L402.5,455.0 L403.0,452.2 L403.5,447.0 L404.0,440.4 L404.5,431.4 L405.0,421.3 L405.5,413.8 L406.0,414.7 L406.5,423.8 L407.0,433.4 L407.5,441.8 L408.0,448.5 L408.5,452.8 L409.0,455.4 L409.5,457.3 L410.0,458.2 L410.5,458.2 L411.0,458.7 L411.5,459.1 L412.0,459.0 L412.5,459.5 L413.0,459.3 L413.5,459.4 L414.0,459.4 L414.5,459.3 L415.0,459.5 L415.5,459.4 L416.0,459.5 L416.5,459.7 L417.0,459.6 L417.5,459.5 L418.0,459.5 L418.5,459.7 L419.0,459.4 L419.5,459.3 L420.0,459.4 L420.5,459.0 L421.0,458.5 L421.5,458.4 L422.0,457.1 L422.5,455.9 L423.0,454.2 L423.5,452.0 L424.0,450.1 L424.5,448.8 L425.0,449.2 L425.5,450.9 L426.0,453.4 L426.5,455.0 L427.0,456.8 L427.5,457.9 L428.0,458.5 L428.5,459.1 L429.0,459.1 L429.5,459.1 L430.0,459.2 L430.5,459.5 L431.0,459.0 L431.5,459.4 L432.0,459.1 L432.5,459.7 L433.0,459.1 L433.5,458.9 L434.0,459.4 L434.5,459.3 L435.0,459.0 L435.5,459.1 L436.0,458.8 L436.5,458.9 L437.0,459.0 L437.5,458.8 L438.0,458.6 L438.5,458.3 L439.0,458.4 L439.5,458.3 L440.0,458.0 L440.5,457.1 L441.0,456.8 L441.5,455.8 L442.0,454.5 L442.5,452.4 L443.0,449.2 L443.5,443.6 L444.0,436.0 L444.5,425.9 L445.0,413.4 L445.5,398.2 L446.0,382.8 L446.5,370.8 L447.0,369.1 L447.5,380.0 L448.0,395.6 L448.5,410.3 L449.0,423.7 L449.5,434.1 L450.0,442.0 L450.5,447.9 L451.0,451.7 L451.5,453.8 L452.0,455.3 L452.5,456.5 L453.0,456.9 L453.5,457.3 L454.0,457.8 L454.5,457.9 L455.0,458.2 L455.5,458.6 L456.0,458.2 L456.5,458.8 L457.0,458.4 L457.5,458.7 L458.0,458.9 L458.5,459.1 L459.0,458.5 L459.5,459.0 L460.0,458.7 L460.5,458.7 L461.0,458.8 L461.5,459.0 L462.0,459.0 L462.5,458.6 L463.0,458.4 L463.5,458.2 L464.0,457.9 L464.5,457.9 L465.0,458.1 L465.5,457.5 L466.0,457.3 L466.5,457.1 L467.0,456.7 L467.5,456.3 L468.0,455.6 L468.5,454.9 L469.0,453.9 L469.5,451.7 L470.0,448.1 L470.5,442.3 L471.0,433.4 L471.5,420.0 L472.0,401.3 L472.5,377.4 L473.0,349.0 L473.5,318.8 L474.0,297.8 L474.5,300.6 L475.0,324.7 L475.5,354.8 L476.0,383.0 L476.5,405.7 L477.0,423.1 L477.5,435.6 L478.0,444.0 L478.5,449.0 L479.0,451.8 L479.5,453.9 L480.0,455.3 L480.5,456.1 L481.0,456.9 L481.5,457.2 L482.0,457.4 L482.5,457.9 L483.0,457.9 L483.5,458.3 L484.0,458.1 L484.5,458.8 L485.0,458.6 L485.5,458.9 L486.0,458.8 L486.5,458.7 L487.0,459.0 L487.5,459.1 L488.0,459.2 L488.5,459.3 L489.0,459.3 L489.5,459.2 L490.0,459.1 L490.5,459.3 L491.0,459.2 L491.5,459.4 L492.0,459.5 L492.5,459.5 L493.0,459.5 L493.5,459.7 L494.0,459.7 L494.5,459.7 L495.0,459.7 L495.5,459.7 L496.0,459.8 L496.5,459.7 L497.0,459.3 L497.5,459.6 L498.0,459.9 L498.5,459.3 L499.0,459.7 L499.5,459.6 L500.0,459.9 L500.5,459.7 L501.0,459.6 L501.5,459.7 L502.0,459.4 L502.5,459.9 L503.0,459.7 L503.5,459.4 L504.0,459.4 L504.5,459.4 L505.0,459.0 L505.5,458.5 L506.0,458.2 L506.5,457.1 L507.0,455.9 L507.5,454.4 L508.0,452.5 L508.5,451.6 L509.0,451.6 L509.5,452.7 L510.0,454.3 L510.5,456.0 L511.0,457.2 L511.5,457.8 L512.0,458.4 L512.5,458.6 L513.0,458.6 L513.5,458.4 L514.0,458.0 L514.5,457.2 L515.0,455.5 L515.5,453.9 L516.0,451.7 L516.5,449.5 L517.0,447.6 L517.5,447.7 L518.0,449.2 L518.5,451.3 L519.0,453.7 L519.5,455.2 L520.0,456.8 L520.5,457.8 L521.0,458.4 L521.5,458.7 L522.0,459.2 L522.5,459.4 L523.0,459.3 L523.5,459.7 L524.0,459.5 L524.5,459.4 L525.0,459.6 L525.5,459.4 L526.0,459.5 L526.5,459.5 L527.0,459.5 L527.5,459.6 L528.0,459.4 L528.5,459.4 L529.0,459.3 L529.5,459.0 L530.0,459.1 L530.5,459.2 L531.0,458.7 L531.5,459.1 L532.0,459.0 L532.5,459.0 L533.0,458.8 L533.5,458.7 L534.0,458.4 L534.5,458.1 L535.0,458.1 L535.5,457.5 L536.0,457.5 L536.5,456.5 L537.0,456.1 L537.5,454.6 L538.0,452.7 L538.5,449.6 L539.0,445.2 L539.5,438.8 L540.0,429.8 L540.5,418.4 L541.0,404.9 L541.5,388.8 L542.0,372.9 L542.5,360.9 L543.0,359.4 L543.5,370.3 L544.0,385.7 L544.5,401.6 L545.0,416.4 L545.5,428.0 L546.0,437.1 L546.5,444.0 L547.0,449.1 L547.5,452.4 L548.0,454.3 L548.5,455.5 L549.0,456.4 L549.5,457.2 L550.0,457.5 L550.5,457.8 L551.0,458.1 L551.5,458.4 L552.0,458.3 L552.5,458.4 L553.0,458.2 L553.5,458.6 L554.0,458.4 L554.5,458.5 L555.0,458.6 L555.5,458.3 L556.0,458.1 L556.5,457.2 L557.0,456.8 L557.5,455.8 L558.0,454.3 L558.5,452.5 L559.0,450.1 L559.5,447.8 L560.0,445.3 L560.5,444.1 L561.0,444.9 L561.5,447.0 L562.0,449.5 L562.5,451.6 L563.0,453.8 L563.5,455.4 L564.0,456.8 L564.5,457.9 L565.0,458.5 L565.5,458.6 L566.0,459.1 L566.5,459.3 L567.0,459.3 L567.5,459.4 L568.0,459.7 L568.5,459.5 L569.0,459.6 L569.5,459.6 L570.0,459.2 L570.5,459.7 L571.0,459.9 L571.5,460.0 L572.0,460.1 L572.5,459.6 L573.0,459.8 L573.5,459.7 L574.0,459.8 L574.5,459.6 L575.0,459.8 L575.5,459.9 L576.0,459.9 L576.5,459.8 L577.0,459.9 L577.5,459.7 L578.0,459.7 L578.5,459.8 L579.0,459.7 L579.5,459.8 L580.0,459.9 L580.5,459.7 L581.0,459.4 L581.5,459.4 L582.0,459.7 L582.5,459.6 L583.0,459.6 L583.5,459.0 L584.0,459.5 L584.5,459.6 L585.0,459.0 L585.5,458.7 L586.0,458.5 L586.5,457.7 L587.0,456.9 L587.5,456.2 L588.0,454.6 L588.5,453.2 L589.0,451.0 L589.5,448.7 L590.0,446.0 L590.5,443.4 L591.0,440.7 L591.5,439.0 L592.0,438.8 L592.5,440.2 L593.0,443.0 L593.5,445.7 L594.0,448.4 L594.5,450.5 L595.0,452.8 L595.5,454.2 L596.0,456.1 L596.5,457.2 L597.0,457.9 L597.5,458.4 L598.0,458.8 L598.5,459.0 L599.0,459.1 L599.5,459.5 L600.0,459.6 L600.5,459.5 L601.0,459.4 L601.5,459.6 L602.0,459.7 L602.5,459.6 L603.0,459.5 L603.5,459.6 L604.0,459.8 L604.5,460.1 L605.0,459.7 L605.5,459.9 L606.0,459.9 L606.5,460.0 L607.0,459.9 L607.5,460.1 L608.0,460.0 L608.5,459.9 L609.0,460.0 L609.5,460.0 L610.0,460.1 L610.5,460.1 L611.0,460.1 L611.5,460.0 L612.0,460.0 L612.5,460.0 L613.0,460.1 L613.5,460.2 L614.0,460.3 L614.5,460.0 L615.0,460.0 L615.5,460.1 L616.0,460.3 L616.5,459.9 L617.0,460.1 L617.5,459.7 L618.0,460.1 L618.5,459.9 L619.0,460.1 L619.5,460.2 L620.0,459.9 L620.5,459.7 L621.0,460.2 L621.5,460.0 L622.0,460.2 L622.5,460.3 L623.0,459.9 L623.5,459.9 L624.0,460.0 L624.5,459.8 L625.0,460.0 L625.5,460.3 L626.0,460.0 L626.5,459.9 L627.0,460.2 L627.5,460.2 L628.0,459.8 L628.5,460.1 L629.0,460.0 L629.5,460.2 L630.0,460.0 L630.5,460.1 L631.0,460.0 L631.5,460.5 L632.0,460.2 L632.5,460.2 L633.0,460.2 L633.5,460.2 L634.0,460.3 L634.5,460.2 L635.0,460.5 L635.5,460.3 L636.0,460.4 L636.5,459.9 L637.0,460.1 L637.5,460.1 L638.0,459.9 L638.5,460.1 L639.0,460.1 L639.5,460.0 L640.0,460.3 L640.5,460.1 L641.0,460.2 L641.5,459.9 L642.0,460.1 L642.5,460.0 L643.0,460.0 L643.5,460.3 L644.0,460.2 L644.5,460.0 L645.0,460.0 L645.5,460.3 L646.0,460.0 L646.5,460.1 L647.0,460.4 L647.5,460.3 L648.0,460.2 L648.5,460.2 L649.0,460.2 L649.5,460.1 L650.0,460.2 L650.5,460.4 L651.0,460.2 L651.5,460.2 L652.0,460.1 L652.5,460.3 L653.0,460.1 L653.5,460.2 L654.0,460.0 L654.5,460.1 L655.0,460.2 L655.5,460.1 L656.0,460.2 L656.5,460.2 L657.0,460.1 L657.5,460.3 L658.0,460.2 L658.5,460.1 L659.0,460.2 L659.5,460.3 L660.0,460.0 L660.5,460.0 L661.0,460.3 L661.5,460.0 L662.0,460.1 L662.5,459.8 L663.0,460.1 L663.5,460.2 L664.0,459.9 L664.5,460.2 L665.0,460.0 L665.5,460.1 L666.0,460.3 L666.5,460.4 L667.0,460.1 L667.5,460.3 L668.0,460.1 L668.5,460.3 L669.0,459.9 L669.5,460.2 L670.0,460.1 L670.5,460.0 L671.0,460.1 L671.5,460.1 L672.0,460.1 L672.5,460.3 L673.0,460.0 L673.5,460.0 L674.0,460.2 L674.5,460.1 L675.0,460.1 L675.5,460.0 L676.0,460.3 L676.5,460.0 L677.0,460.3 L677.5,460.3 L678.0,460.1 L678.5,460.3 L679.0,460.4 L679.5,460.1 L680.0,460.2 L680.5,460.0 L681.0,460.3 L681.5,460.2 L682.0,460.4 L682.5,460.3 L683.0,460.2 L683.5,460.0 L684.0,460.3 L684.5,460.3 L685.0,460.1 L685.5,460.3 L686.0,460.2 L686.5,460.1" fill="none" stroke="#8a8a8a" stroke-width="1.2" stroke-linejoin="round"/>
<rect x="329.5" y="274.5" width="357.5" height="203.0" fill="none" stroke="#4a4a4a" stroke-width="1.1"/>
<line x1="325.5" y1="460.2" x2="329.5" y2="460.2" stroke="#333" stroke-width="1"/>
<line x1="325.5" y1="377.85" x2="329.5" y2="377.85" stroke="#333" stroke-width="1"/>
<line x1="325.5" y1="295.5" x2="329.5" y2="295.5" stroke="#333" stroke-width="1"/>
<line x1="327.3" y1="419.025" x2="329.5" y2="419.025" stroke="#333" stroke-width="1"/>
<line x1="327.3" y1="336.675" x2="329.5" y2="336.675" stroke="#333" stroke-width="1"/>
<line x1="363.8" y1="477.5" x2="363.8" y2="481.5" stroke="#333" stroke-width="1"/>
<line x1="399.66" y1="477.5" x2="399.66" y2="481.5" stroke="#333" stroke-width="1"/>
<line x1="435.52" y1="477.5" x2="435.52" y2="481.5" stroke="#333" stroke-width="1"/>
<line x1="471.38" y1="477.5" x2="471.38" y2="481.5" stroke="#333" stroke-width="1"/>
<line x1="507.24" y1="477.5" x2="507.24" y2="481.5" stroke="#333" stroke-width="1"/>
<line x1="543.1" y1="477.5" x2="543.1" y2="481.5" stroke="#333" stroke-width="1"/>
<line x1="578.96" y1="477.5" x2="578.96" y2="481.5" stroke="#333" stroke-width="1"/>
<line x1="614.8199999999999" y1="477.5" x2="614.8199999999999" y2="481.5" stroke="#333" stroke-width="1"/>
<line x1="650.6800000000001" y1="477.5" x2="650.6800000000001" y2="481.5" stroke="#333" stroke-width="1"/>
<line x1="686.54" y1="477.5" x2="686.54" y2="481.5" stroke="#333" stroke-width="1"/>
<line x1="345.87" y1="477.5" x2="345.87" y2="479.7" stroke="#333" stroke-width="1"/>
<line x1="381.73" y1="477.5" x2="381.73" y2="479.7" stroke="#333" stroke-width="1"/>
<line x1="417.59000000000003" y1="477.5" x2="417.59000000000003" y2="479.7" stroke="#333" stroke-width="1"/>
<line x1="453.45" y1="477.5" x2="453.45" y2="479.7" stroke="#333" stroke-width="1"/>
<line x1="489.31" y1="477.5" x2="489.31" y2="479.7" stroke="#333" stroke-width="1"/>
<line x1="525.17" y1="477.5" x2="525.17" y2="479.7" stroke="#333" stroke-width="1"/>
<line x1="561.03" y1="477.5" x2="561.03" y2="479.7" stroke="#333" stroke-width="1"/>
<line x1="596.89" y1="477.5" x2="596.89" y2="479.7" stroke="#333" stroke-width="1"/>
<line x1="632.75" y1="477.5" x2="632.75" y2="479.7" stroke="#333" stroke-width="1"/>
<line x1="668.61" y1="477.5" x2="668.61" y2="479.7" stroke="#333" stroke-width="1"/>
<line x1="358.421" y1="274.5" x2="358.421" y2="270.5" stroke="#333" stroke-width="1"/>
<line x1="381.73" y1="274.5" x2="381.73" y2="270.5" stroke="#333" stroke-width="1"/>
<line x1="435.52" y1="274.5" x2="435.52" y2="270.5" stroke="#333" stroke-width="1"/>
<line x1="489.31" y1="274.5" x2="489.31" y2="270.5" stroke="#333" stroke-width="1"/>
<line x1="543.1" y1="274.5" x2="543.1" y2="270.5" stroke="#333" stroke-width="1"/>
<line x1="686.54" y1="274.5" x2="686.54" y2="270.5" stroke="#333" stroke-width="1"/>
<text x="323.5" y="463.09999999999997" font-size="8.8" fill="#222" text-anchor="end" >0.0</text>
<text x="323.5" y="380.75" font-size="8.8" fill="#222" text-anchor="end" >0.5</text>
<text x="323.5" y="298.4" font-size="8.8" fill="#222" text-anchor="end" >1.0</text>
<text x="363.8" y="491.3" font-size="8.8" fill="#222" text-anchor="middle" >200</text>
<text x="399.66" y="491.3" font-size="8.8" fill="#222" text-anchor="middle" >400</text>
<text x="435.52" y="491.3" font-size="8.8" fill="#222" text-anchor="middle" >600</text>
<text x="471.38" y="491.3" font-size="8.8" fill="#222" text-anchor="middle" >800</text>
<text x="507.24" y="491.3" font-size="8.8" fill="#222" text-anchor="middle" >1000</text>
<text x="543.1" y="491.3" font-size="8.8" fill="#222" text-anchor="middle" >1200</text>
<text x="578.96" y="491.3" font-size="8.8" fill="#222" text-anchor="middle" >1400</text>
<text x="614.8199999999999" y="491.3" font-size="8.8" fill="#222" text-anchor="middle" >1600</text>
<text x="650.6800000000001" y="491.3" font-size="8.8" fill="#222" text-anchor="middle" >1800</text>
<text x="686.54" y="491.3" font-size="8.8" fill="#222" text-anchor="middle" >2000</text>
<text x="358.421" y="266.2" font-size="8.6" fill="#222" text-anchor="middle" >170</text>
<text x="381.73" y="266.2" font-size="8.6" fill="#222" text-anchor="middle" >300</text>
<text x="435.52" y="266.2" font-size="8.6" fill="#222" text-anchor="middle" >600</text>
<text x="489.31" y="266.2" font-size="8.6" fill="#222" text-anchor="middle" >900</text>
<text x="543.1" y="266.2" font-size="8.6" fill="#222" text-anchor="middle" >1200</text>
<text x="686.54" y="266.2" font-size="8.6" fill="#222" text-anchor="middle" >2000</text>
<text x="508.5" y="508.6" font-size="11" fill="#222" text-anchor="middle" >Wavenumber (cm<tspan font-size="6.8" dy="-4">-1</tspan><tspan dy="4">)</tspan></text>
<text transform="translate(298.7,370.7) rotate(-90)" font-size="10.4" fill="#222" text-anchor="middle">S (Q,ω)</text>
<text x="297.4" y="274.0" font-size="11.6" fill="#222" text-anchor="start" letter-spacing="0.7">d)</text>
<path d="M333.70,286.20 L339.90,282.80 L339.30,284.70 L346.40,284.70 L345.80,282.80 L352.00,286.20 L345.80,289.60 L346.40,287.70 L339.30,287.70 L339.90,289.60 Z" fill="#111"/>
<path d="M357.80,286.00 L364.00,282.60 L363.40,284.50 L377.40,284.50 L376.80,282.60 L383.00,286.00 L376.80,289.40 L377.40,287.50 L363.40,287.50 L364.00,289.40 Z" fill="#6a6a6a"/>
<path d="M387.20,285.80 L393.40,282.40 L392.80,284.30 L427.70,284.30 L427.10,282.40 L433.30,285.80 L427.10,289.20 L427.70,287.30 L392.80,287.30 L393.40,289.20 Z" fill="#6e6e6e"/>
<path d="M440.10,285.70 L446.30,282.30 L445.70,284.20 L481.10,284.20 L480.50,282.30 L486.70,285.70 L480.50,289.10 L481.10,287.20 L445.70,287.20 L446.30,289.10 Z" fill="#7e7e7e"/>
<path d="M494.10,285.80 L500.30,282.40 L499.70,284.30 L533.00,284.30 L532.40,282.40 L538.60,285.80 L532.40,289.20 L533.00,287.30 L499.70,287.30 L500.30,289.20 Z" fill="#8a8a8a"/>
<path d="M550.40,285.90 L556.60,282.50 L556.00,284.40 L675.80,284.40 L675.20,282.50 L681.40,285.90 L675.20,289.30 L675.80,287.40 L556.00,287.40 L556.60,289.30 Z" fill="#9a9a9a"/>
<path d="M665.40,297.30 L665.40,293.70 L679.60,293.70 L679.00,292.20 L684.50,295.50 L679.00,298.80 L679.60,297.30 L665.40,297.30 Z" fill="#b3b3b3"/>
<line x1="357.5" y1="287.5" x2="357.5" y2="305" stroke="#a8a8a8" stroke-width="1.2" stroke-dasharray="3.5,2"/>
<line x1="382.8" y1="287.5" x2="382.8" y2="305" stroke="#a8a8a8" stroke-width="1.2" stroke-dasharray="3.5,2"/>
<line x1="436.2" y1="287.5" x2="436.2" y2="305" stroke="#a8a8a8" stroke-width="1.2" stroke-dasharray="3.5,2"/>
<line x1="490.2" y1="287.5" x2="490.2" y2="305" stroke="#a8a8a8" stroke-width="1.2" stroke-dasharray="3.5,2"/>
<line x1="543.7" y1="287.5" x2="543.7" y2="305" stroke="#a8a8a8" stroke-width="1.2" stroke-dasharray="3.5,2"/>
<text x="344.2" y="303.3" font-size="10.6" fill="#2a2a2a" text-anchor="middle" >I</text>
<text x="370.7" y="303.3" font-size="10.6" fill="#2a2a2a" text-anchor="middle" >II</text>
<text x="411.5" y="303.3" font-size="10.6" fill="#2a2a2a" text-anchor="middle" >III</text>
<text x="459.2" y="303.3" font-size="10.6" fill="#2a2a2a" text-anchor="middle" >IV</text>
<text x="517.7" y="303.3" font-size="10.6" fill="#2a2a2a" text-anchor="middle" >V</text>
<text x="607.9" y="303.3" font-size="10.6" fill="#2a2a2a" text-anchor="middle" >VI</text>
<text x="675" y="310.3" font-size="10.6" fill="#2a2a2a" text-anchor="middle" >VII</text>
<line x1="607.2" y1="331.4" x2="631.5" y2="331.4" stroke="#2d33a0" stroke-width="1.3"/>
<line x1="607.2" y1="344.3" x2="631.5" y2="344.3" stroke="#8a8a8a" stroke-width="1.3"/>
<text x="634.3" y="335.2" font-size="10.5" fill="#222" text-anchor="start" >INS</text>
<text x="634.3" y="348.2" font-size="10.5" fill="#222" text-anchor="start" >Simulated</text>
</svg>
</body></html>
